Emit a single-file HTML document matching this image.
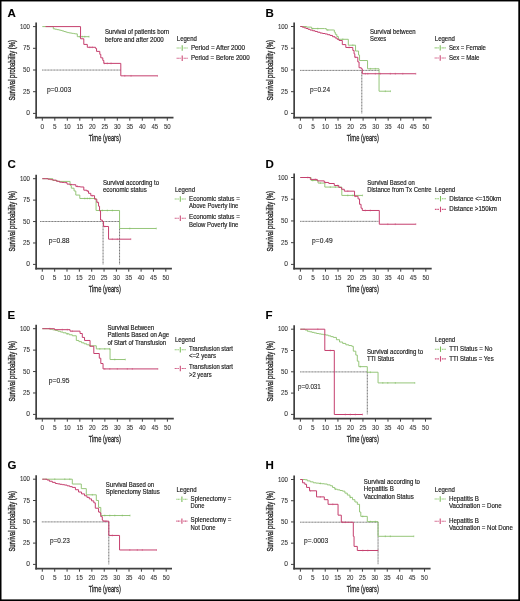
<!DOCTYPE html>
<html><head><meta charset="utf-8"><style>
html,body{margin:0;padding:0;background:#fff;}
svg{display:block;will-change:transform;}
text{font-family:"Liberation Sans", sans-serif;}
</style></head><body>
<svg width="520" height="601" viewBox="0 0 520 601">
<rect x="0" y="0" width="520" height="601" fill="#fff"/>
<g transform="translate(0 0)">
<text x="7.50" y="16.70" font-size="11.5" text-anchor="start" font-weight="bold" fill="#000" stroke="#000" stroke-width="0.1">A</text>
<line x1="36.15" y1="22.60" x2="36.15" y2="118.4" stroke="#404040" stroke-width="1.7"/>
<line x1="35.3" y1="117.65" x2="173.50" y2="117.65" stroke="#404040" stroke-width="1.7"/>
<line x1="33.0" y1="113.40" x2="36.1" y2="113.40" stroke="#404040" stroke-width="1"/>
<text x="30.00" y="115.45" font-size="6.7" text-anchor="end" font-weight="normal" fill="#333" textLength="3.70" lengthAdjust="spacingAndGlyphs" stroke="#333" stroke-width="0.08">0</text>
<line x1="33.0" y1="91.70" x2="36.1" y2="91.70" stroke="#404040" stroke-width="1"/>
<text x="30.00" y="93.75" font-size="6.7" text-anchor="end" font-weight="normal" fill="#333" textLength="7.00" lengthAdjust="spacingAndGlyphs" stroke="#333" stroke-width="0.08">25</text>
<line x1="33.0" y1="70.00" x2="36.1" y2="70.00" stroke="#404040" stroke-width="1"/>
<text x="30.00" y="72.05" font-size="6.7" text-anchor="end" font-weight="normal" fill="#333" textLength="7.00" lengthAdjust="spacingAndGlyphs" stroke="#333" stroke-width="0.08">50</text>
<line x1="33.0" y1="48.30" x2="36.1" y2="48.30" stroke="#404040" stroke-width="1"/>
<text x="30.00" y="50.35" font-size="6.7" text-anchor="end" font-weight="normal" fill="#333" textLength="7.00" lengthAdjust="spacingAndGlyphs" stroke="#333" stroke-width="0.08">75</text>
<line x1="33.0" y1="26.60" x2="36.1" y2="26.60" stroke="#404040" stroke-width="1"/>
<text x="30.00" y="28.65" font-size="6.7" text-anchor="end" font-weight="normal" fill="#333" textLength="10.10" lengthAdjust="spacingAndGlyphs" stroke="#333" stroke-width="0.08">100</text>
<line x1="42.30" y1="117.6" x2="42.30" y2="120.7" stroke="#404040" stroke-width="1"/>
<text x="42.30" y="129.20" font-size="6.6" text-anchor="middle" font-weight="normal" fill="#333" textLength="3.60" lengthAdjust="spacingAndGlyphs" stroke="#333" stroke-width="0.08">0</text>
<line x1="54.80" y1="117.6" x2="54.80" y2="120.7" stroke="#404040" stroke-width="1"/>
<text x="54.80" y="129.20" font-size="6.6" text-anchor="middle" font-weight="normal" fill="#333" textLength="3.60" lengthAdjust="spacingAndGlyphs" stroke="#333" stroke-width="0.08">5</text>
<line x1="67.30" y1="117.6" x2="67.30" y2="120.7" stroke="#404040" stroke-width="1"/>
<text x="67.30" y="129.20" font-size="6.6" text-anchor="middle" font-weight="normal" fill="#333" textLength="6.80" lengthAdjust="spacingAndGlyphs" stroke="#333" stroke-width="0.08">10</text>
<line x1="79.80" y1="117.6" x2="79.80" y2="120.7" stroke="#404040" stroke-width="1"/>
<text x="79.80" y="129.20" font-size="6.6" text-anchor="middle" font-weight="normal" fill="#333" textLength="6.80" lengthAdjust="spacingAndGlyphs" stroke="#333" stroke-width="0.08">15</text>
<line x1="92.30" y1="117.6" x2="92.30" y2="120.7" stroke="#404040" stroke-width="1"/>
<text x="92.30" y="129.20" font-size="6.6" text-anchor="middle" font-weight="normal" fill="#333" textLength="6.80" lengthAdjust="spacingAndGlyphs" stroke="#333" stroke-width="0.08">20</text>
<line x1="104.80" y1="117.6" x2="104.80" y2="120.7" stroke="#404040" stroke-width="1"/>
<text x="104.80" y="129.20" font-size="6.6" text-anchor="middle" font-weight="normal" fill="#333" textLength="6.80" lengthAdjust="spacingAndGlyphs" stroke="#333" stroke-width="0.08">25</text>
<line x1="117.30" y1="117.6" x2="117.30" y2="120.7" stroke="#404040" stroke-width="1"/>
<text x="117.30" y="129.20" font-size="6.6" text-anchor="middle" font-weight="normal" fill="#333" textLength="6.80" lengthAdjust="spacingAndGlyphs" stroke="#333" stroke-width="0.08">30</text>
<line x1="129.80" y1="117.6" x2="129.80" y2="120.7" stroke="#404040" stroke-width="1"/>
<text x="129.80" y="129.20" font-size="6.6" text-anchor="middle" font-weight="normal" fill="#333" textLength="6.80" lengthAdjust="spacingAndGlyphs" stroke="#333" stroke-width="0.08">35</text>
<line x1="142.30" y1="117.6" x2="142.30" y2="120.7" stroke="#404040" stroke-width="1"/>
<text x="142.30" y="129.20" font-size="6.6" text-anchor="middle" font-weight="normal" fill="#333" textLength="6.80" lengthAdjust="spacingAndGlyphs" stroke="#333" stroke-width="0.08">40</text>
<line x1="154.80" y1="117.6" x2="154.80" y2="120.7" stroke="#404040" stroke-width="1"/>
<text x="154.80" y="129.20" font-size="6.6" text-anchor="middle" font-weight="normal" fill="#333" textLength="6.80" lengthAdjust="spacingAndGlyphs" stroke="#333" stroke-width="0.08">45</text>
<line x1="167.30" y1="117.6" x2="167.30" y2="120.7" stroke="#404040" stroke-width="1"/>
<text x="167.30" y="129.20" font-size="6.6" text-anchor="middle" font-weight="normal" fill="#333" textLength="6.80" lengthAdjust="spacingAndGlyphs" stroke="#333" stroke-width="0.08">50</text>
<text x="104.80" y="140.90" font-size="9.0" text-anchor="middle" font-weight="normal" fill="#2a2a2a" textLength="32.00" lengthAdjust="spacingAndGlyphs" stroke="#2a2a2a" stroke-width="0.32">Time (years)</text>
<text x="0" y="0" font-size="9.4" text-anchor="middle" fill="#2a2a2a" stroke="#2a2a2a" stroke-width="0.36" textLength="60.6" lengthAdjust="spacingAndGlyphs" transform="translate(14.5 70.3) rotate(-90)">Survival probability (%)</text>
<path d="M42.10,70.05H120.80" fill="none" stroke="#707070" stroke-width="0.95" stroke-dasharray="1.1 0.4"/>
<path d="M42.30,26.60H51.55V26.60H53.30V28.85H55.11V29.24H56.92V29.63H58.74V30.02H60.55V30.42H62.24V30.96H63.92V31.50H65.61V32.05H67.30V32.59H68.90V32.85H70.50V33.11H72.10V33.37H73.70V33.63H75.30V33.89H77.30V36.68H89.05" fill="none" stroke="#96c67a" stroke-width="1.0" stroke-linejoin="miter"/>
<line x1="79.80" y1="35.78" x2="79.80" y2="37.58" stroke="#7cbc5c" stroke-width="0.9" opacity="0.6"/>
<line x1="82.30" y1="35.78" x2="82.30" y2="37.58" stroke="#7cbc5c" stroke-width="0.9" opacity="0.6"/>
<line x1="84.80" y1="35.78" x2="84.80" y2="37.58" stroke="#7cbc5c" stroke-width="0.9" opacity="0.6"/>
<line x1="89.05" y1="35.78" x2="89.05" y2="37.58" stroke="#7cbc5c" stroke-width="0.9" opacity="0.6"/>
<path d="M45.55,26.60H80.55V38.77H83.80V44.42H87.30V47.29H95.55V48.42H96.55V51.38H99.80V54.34H100.80V57.82H102.80V60.43H103.80V63.39H120.80V75.83H157.55" fill="none" stroke="#c53f6e" stroke-width="1.0" stroke-linejoin="miter"/>
<line x1="89.80" y1="46.39" x2="89.80" y2="48.19" stroke="#cc4a76" stroke-width="0.9" opacity="0.6"/>
<line x1="92.30" y1="46.39" x2="92.30" y2="48.19" stroke="#cc4a76" stroke-width="0.9" opacity="0.6"/>
<line x1="104.30" y1="62.49" x2="104.30" y2="64.29" stroke="#cc4a76" stroke-width="0.9" opacity="0.6"/>
<line x1="107.30" y1="62.49" x2="107.30" y2="64.29" stroke="#cc4a76" stroke-width="0.9" opacity="0.6"/>
<line x1="111.05" y1="62.49" x2="111.05" y2="64.29" stroke="#cc4a76" stroke-width="0.9" opacity="0.6"/>
<line x1="124.80" y1="74.93" x2="124.80" y2="76.73" stroke="#cc4a76" stroke-width="0.9" opacity="0.6"/>
<line x1="131.05" y1="74.93" x2="131.05" y2="76.73" stroke="#cc4a76" stroke-width="0.9" opacity="0.6"/>
<line x1="157.55" y1="74.93" x2="157.55" y2="76.73" stroke="#cc4a76" stroke-width="0.9" opacity="0.6"/>
<text x="104.90" y="34.20" font-size="6.6" text-anchor="start" font-weight="normal" fill="#222" textLength="64.30" lengthAdjust="spacingAndGlyphs" stroke="#222" stroke-width="0.18">Survival of patients born</text>
<text x="104.90" y="41.60" font-size="6.6" text-anchor="start" font-weight="normal" fill="#222" textLength="58.90" lengthAdjust="spacingAndGlyphs" stroke="#222" stroke-width="0.18">before and after 2000</text>
<text x="176.80" y="41.35" font-size="6.6" text-anchor="start" font-weight="normal" fill="#222" textLength="20.10" lengthAdjust="spacingAndGlyphs" stroke="#222" stroke-width="0.18">Legend</text>
<line x1="176.60" y1="48.00" x2="180.70" y2="48.00" stroke="#8fca72" stroke-width="1.1" stroke-dasharray="1.2 0.4"/><line x1="182.20" y1="45.30" x2="182.20" y2="50.70" stroke="#7cbc5c" stroke-width="1.1"/><line x1="183.60" y1="48.00" x2="187.70" y2="48.00" stroke="#8fca72" stroke-width="1.1" stroke-dasharray="1.2 0.4"/>
<text x="190.90" y="49.90" font-size="6.6" text-anchor="start" font-weight="normal" fill="#222" textLength="54.20" lengthAdjust="spacingAndGlyphs" stroke="#222" stroke-width="0.18">Period = After 2000</text>
<line x1="176.60" y1="58.30" x2="180.70" y2="58.30" stroke="#cf5580" stroke-width="1.1" stroke-dasharray="1.2 0.4"/><line x1="182.20" y1="55.60" x2="182.20" y2="61.00" stroke="#cc4a76" stroke-width="1.1"/><line x1="183.60" y1="58.30" x2="187.70" y2="58.30" stroke="#cf5580" stroke-width="1.1" stroke-dasharray="1.2 0.4"/>
<text x="190.90" y="59.90" font-size="6.6" text-anchor="start" font-weight="normal" fill="#222" textLength="58.80" lengthAdjust="spacingAndGlyphs" stroke="#222" stroke-width="0.18">Period = Before 2000</text>
<text x="46.90" y="92.10" font-size="6.8" text-anchor="start" font-weight="normal" fill="#222" textLength="24.30" lengthAdjust="spacingAndGlyphs" stroke="#222" stroke-width="0.1">p=0.003</text>
</g>
<g transform="translate(258 0)">
<text x="7.50" y="16.70" font-size="11.5" text-anchor="start" font-weight="bold" fill="#000" stroke="#000" stroke-width="0.1">B</text>
<line x1="36.15" y1="22.50" x2="36.15" y2="118.4" stroke="#404040" stroke-width="1.7"/>
<line x1="35.3" y1="117.65" x2="173.70" y2="117.65" stroke="#404040" stroke-width="1.7"/>
<line x1="33.0" y1="113.40" x2="36.1" y2="113.40" stroke="#404040" stroke-width="1"/>
<text x="30.00" y="115.45" font-size="6.7" text-anchor="end" font-weight="normal" fill="#333" textLength="3.70" lengthAdjust="spacingAndGlyphs" stroke="#333" stroke-width="0.08">0</text>
<line x1="33.0" y1="91.68" x2="36.1" y2="91.68" stroke="#404040" stroke-width="1"/>
<text x="30.00" y="93.73" font-size="6.7" text-anchor="end" font-weight="normal" fill="#333" textLength="7.00" lengthAdjust="spacingAndGlyphs" stroke="#333" stroke-width="0.08">25</text>
<line x1="33.0" y1="69.95" x2="36.1" y2="69.95" stroke="#404040" stroke-width="1"/>
<text x="30.00" y="72.00" font-size="6.7" text-anchor="end" font-weight="normal" fill="#333" textLength="7.00" lengthAdjust="spacingAndGlyphs" stroke="#333" stroke-width="0.08">50</text>
<line x1="33.0" y1="48.23" x2="36.1" y2="48.23" stroke="#404040" stroke-width="1"/>
<text x="30.00" y="50.28" font-size="6.7" text-anchor="end" font-weight="normal" fill="#333" textLength="7.00" lengthAdjust="spacingAndGlyphs" stroke="#333" stroke-width="0.08">75</text>
<line x1="33.0" y1="26.50" x2="36.1" y2="26.50" stroke="#404040" stroke-width="1"/>
<text x="30.00" y="28.55" font-size="6.7" text-anchor="end" font-weight="normal" fill="#333" textLength="10.10" lengthAdjust="spacingAndGlyphs" stroke="#333" stroke-width="0.08">100</text>
<line x1="42.40" y1="117.6" x2="42.40" y2="120.7" stroke="#404040" stroke-width="1"/>
<text x="42.40" y="129.20" font-size="6.6" text-anchor="middle" font-weight="normal" fill="#333" textLength="3.60" lengthAdjust="spacingAndGlyphs" stroke="#333" stroke-width="0.08">0</text>
<line x1="54.94" y1="117.6" x2="54.94" y2="120.7" stroke="#404040" stroke-width="1"/>
<text x="54.94" y="129.20" font-size="6.6" text-anchor="middle" font-weight="normal" fill="#333" textLength="3.60" lengthAdjust="spacingAndGlyphs" stroke="#333" stroke-width="0.08">5</text>
<line x1="67.48" y1="117.6" x2="67.48" y2="120.7" stroke="#404040" stroke-width="1"/>
<text x="67.48" y="129.20" font-size="6.6" text-anchor="middle" font-weight="normal" fill="#333" textLength="6.80" lengthAdjust="spacingAndGlyphs" stroke="#333" stroke-width="0.08">10</text>
<line x1="80.02" y1="117.6" x2="80.02" y2="120.7" stroke="#404040" stroke-width="1"/>
<text x="80.02" y="129.20" font-size="6.6" text-anchor="middle" font-weight="normal" fill="#333" textLength="6.80" lengthAdjust="spacingAndGlyphs" stroke="#333" stroke-width="0.08">15</text>
<line x1="92.56" y1="117.6" x2="92.56" y2="120.7" stroke="#404040" stroke-width="1"/>
<text x="92.56" y="129.20" font-size="6.6" text-anchor="middle" font-weight="normal" fill="#333" textLength="6.80" lengthAdjust="spacingAndGlyphs" stroke="#333" stroke-width="0.08">20</text>
<line x1="105.10" y1="117.6" x2="105.10" y2="120.7" stroke="#404040" stroke-width="1"/>
<text x="105.10" y="129.20" font-size="6.6" text-anchor="middle" font-weight="normal" fill="#333" textLength="6.80" lengthAdjust="spacingAndGlyphs" stroke="#333" stroke-width="0.08">25</text>
<line x1="117.64" y1="117.6" x2="117.64" y2="120.7" stroke="#404040" stroke-width="1"/>
<text x="117.64" y="129.20" font-size="6.6" text-anchor="middle" font-weight="normal" fill="#333" textLength="6.80" lengthAdjust="spacingAndGlyphs" stroke="#333" stroke-width="0.08">30</text>
<line x1="130.18" y1="117.6" x2="130.18" y2="120.7" stroke="#404040" stroke-width="1"/>
<text x="130.18" y="129.20" font-size="6.6" text-anchor="middle" font-weight="normal" fill="#333" textLength="6.80" lengthAdjust="spacingAndGlyphs" stroke="#333" stroke-width="0.08">35</text>
<line x1="142.72" y1="117.6" x2="142.72" y2="120.7" stroke="#404040" stroke-width="1"/>
<text x="142.72" y="129.20" font-size="6.6" text-anchor="middle" font-weight="normal" fill="#333" textLength="6.80" lengthAdjust="spacingAndGlyphs" stroke="#333" stroke-width="0.08">40</text>
<line x1="155.26" y1="117.6" x2="155.26" y2="120.7" stroke="#404040" stroke-width="1"/>
<text x="155.26" y="129.20" font-size="6.6" text-anchor="middle" font-weight="normal" fill="#333" textLength="6.80" lengthAdjust="spacingAndGlyphs" stroke="#333" stroke-width="0.08">45</text>
<line x1="167.80" y1="117.6" x2="167.80" y2="120.7" stroke="#404040" stroke-width="1"/>
<text x="167.80" y="129.20" font-size="6.6" text-anchor="middle" font-weight="normal" fill="#333" textLength="6.80" lengthAdjust="spacingAndGlyphs" stroke="#333" stroke-width="0.08">50</text>
<text x="104.80" y="140.90" font-size="9.0" text-anchor="middle" font-weight="normal" fill="#2a2a2a" textLength="32.00" lengthAdjust="spacingAndGlyphs" stroke="#2a2a2a" stroke-width="0.32">Time (years)</text>
<text x="0" y="0" font-size="9.4" text-anchor="middle" fill="#2a2a2a" stroke="#2a2a2a" stroke-width="0.36" textLength="60.6" lengthAdjust="spacingAndGlyphs" transform="translate(14.5 70.3) rotate(-90)">Survival probability (%)</text>
<path d="M42.10,70.40H121.05 M103.80,70.40V113.4" fill="none" stroke="#707070" stroke-width="0.95" stroke-dasharray="1.1 0.4"/>
<path d="M42.30,26.50H48.55V27.11H53.55V28.59H66.55V28.59H68.30V29.98H75.30V29.98H76.30V32.16H77.30V34.33H78.80V36.50H80.30V39.29H90.30V45.20H97.55V51.03H100.55V55.04H101.55V60.52H109.55V68.78H121.05V91.23H132.55" fill="none" stroke="#96c67a" stroke-width="1.0" stroke-linejoin="miter"/>
<line x1="54.80" y1="27.69" x2="54.80" y2="29.49" stroke="#7cbc5c" stroke-width="0.9" opacity="0.6"/>
<line x1="59.80" y1="27.69" x2="59.80" y2="29.49" stroke="#7cbc5c" stroke-width="0.9" opacity="0.6"/>
<line x1="69.80" y1="29.08" x2="69.80" y2="30.88" stroke="#7cbc5c" stroke-width="0.9" opacity="0.6"/>
<line x1="84.80" y1="38.39" x2="84.80" y2="40.19" stroke="#7cbc5c" stroke-width="0.9" opacity="0.6"/>
<line x1="94.80" y1="44.30" x2="94.80" y2="46.10" stroke="#7cbc5c" stroke-width="0.9" opacity="0.6"/>
<line x1="112.30" y1="67.88" x2="112.30" y2="69.68" stroke="#7cbc5c" stroke-width="0.9" opacity="0.6"/>
<line x1="117.30" y1="67.88" x2="117.30" y2="69.68" stroke="#7cbc5c" stroke-width="0.9" opacity="0.6"/>
<line x1="127.30" y1="90.33" x2="127.30" y2="92.13" stroke="#7cbc5c" stroke-width="0.9" opacity="0.6"/>
<line x1="132.55" y1="90.33" x2="132.55" y2="92.13" stroke="#7cbc5c" stroke-width="0.9" opacity="0.6"/>
<path d="M42.30,26.50H44.22V27.17H46.13V27.83H48.05V28.50H50.05V29.28H52.05V30.07H54.55V30.76H57.05V31.46H59.55V32.24H62.05V33.03H64.55V33.50H67.05V33.98H69.55V34.72H72.05V35.46H74.55V36.72H77.05V37.98H79.05V39.25H81.05V40.51H84.30V44.60H87.80V47.47H94.80V50.42H96.05V53.82H96.80V57.30H99.80V61.91H101.05V67.74H103.30V68.78H104.30V73.74H157.80" fill="none" stroke="#c53f6e" stroke-width="1.0" stroke-linejoin="miter"/>
<line x1="91.05" y1="46.57" x2="91.05" y2="48.37" stroke="#cc4a76" stroke-width="0.9" opacity="0.6"/>
<line x1="97.30" y1="56.40" x2="97.30" y2="58.20" stroke="#cc4a76" stroke-width="0.9" opacity="0.6"/>
<line x1="107.30" y1="72.84" x2="107.30" y2="74.64" stroke="#cc4a76" stroke-width="0.9" opacity="0.6"/>
<line x1="109.80" y1="72.84" x2="109.80" y2="74.64" stroke="#cc4a76" stroke-width="0.9" opacity="0.6"/>
<line x1="117.30" y1="72.84" x2="117.30" y2="74.64" stroke="#cc4a76" stroke-width="0.9" opacity="0.6"/>
<line x1="122.30" y1="72.84" x2="122.30" y2="74.64" stroke="#cc4a76" stroke-width="0.9" opacity="0.6"/>
<line x1="132.30" y1="72.84" x2="132.30" y2="74.64" stroke="#cc4a76" stroke-width="0.9" opacity="0.6"/>
<line x1="137.30" y1="72.84" x2="137.30" y2="74.64" stroke="#cc4a76" stroke-width="0.9" opacity="0.6"/>
<line x1="144.80" y1="72.84" x2="144.80" y2="74.64" stroke="#cc4a76" stroke-width="0.9" opacity="0.6"/>
<line x1="157.80" y1="72.84" x2="157.80" y2="74.64" stroke="#cc4a76" stroke-width="0.9" opacity="0.6"/>
<text x="112.00" y="33.80" font-size="6.6" text-anchor="start" font-weight="normal" fill="#222" textLength="45.70" lengthAdjust="spacingAndGlyphs" stroke="#222" stroke-width="0.18">Survival between</text>
<text x="112.00" y="41.20" font-size="6.6" text-anchor="start" font-weight="normal" fill="#222" textLength="16.20" lengthAdjust="spacingAndGlyphs" stroke="#222" stroke-width="0.18">Sexes</text>
<text x="176.80" y="41.45" font-size="6.6" text-anchor="start" font-weight="normal" fill="#222" textLength="20.10" lengthAdjust="spacingAndGlyphs" stroke="#222" stroke-width="0.18">Legend</text>
<line x1="176.60" y1="47.90" x2="180.70" y2="47.90" stroke="#8fca72" stroke-width="1.1" stroke-dasharray="1.2 0.4"/><line x1="182.20" y1="45.20" x2="182.20" y2="50.60" stroke="#7cbc5c" stroke-width="1.1"/><line x1="183.60" y1="47.90" x2="187.70" y2="47.90" stroke="#8fca72" stroke-width="1.1" stroke-dasharray="1.2 0.4"/>
<text x="190.90" y="49.50" font-size="6.6" text-anchor="start" font-weight="normal" fill="#222" textLength="37.00" lengthAdjust="spacingAndGlyphs" stroke="#222" stroke-width="0.18">Sex = Female</text>
<line x1="176.60" y1="58.00" x2="180.70" y2="58.00" stroke="#cf5580" stroke-width="1.1" stroke-dasharray="1.2 0.4"/><line x1="182.20" y1="55.30" x2="182.20" y2="60.70" stroke="#cc4a76" stroke-width="1.1"/><line x1="183.60" y1="58.00" x2="187.70" y2="58.00" stroke="#cf5580" stroke-width="1.1" stroke-dasharray="1.2 0.4"/>
<text x="190.90" y="59.60" font-size="6.6" text-anchor="start" font-weight="normal" fill="#222" textLength="30.60" lengthAdjust="spacingAndGlyphs" stroke="#222" stroke-width="0.18">Sex = Male</text>
<text x="52.00" y="92.20" font-size="6.8" text-anchor="start" font-weight="normal" fill="#222" textLength="20.00" lengthAdjust="spacingAndGlyphs" stroke="#222" stroke-width="0.1">p=0.24</text>
</g>
<g transform="translate(0 151)">
<text x="7.50" y="16.60" font-size="11.5" text-anchor="start" font-weight="bold" fill="#000" stroke="#000" stroke-width="0.1">C</text>
<line x1="36.15" y1="23.70" x2="36.15" y2="118.4" stroke="#404040" stroke-width="1.7"/>
<line x1="35.3" y1="117.65" x2="171.90" y2="117.65" stroke="#404040" stroke-width="1.7"/>
<line x1="33.0" y1="113.40" x2="36.1" y2="113.40" stroke="#404040" stroke-width="1"/>
<text x="30.00" y="115.45" font-size="6.7" text-anchor="end" font-weight="normal" fill="#333" textLength="3.70" lengthAdjust="spacingAndGlyphs" stroke="#333" stroke-width="0.08">0</text>
<line x1="33.0" y1="91.98" x2="36.1" y2="91.98" stroke="#404040" stroke-width="1"/>
<text x="30.00" y="94.03" font-size="6.7" text-anchor="end" font-weight="normal" fill="#333" textLength="7.00" lengthAdjust="spacingAndGlyphs" stroke="#333" stroke-width="0.08">25</text>
<line x1="33.0" y1="70.55" x2="36.1" y2="70.55" stroke="#404040" stroke-width="1"/>
<text x="30.00" y="72.60" font-size="6.7" text-anchor="end" font-weight="normal" fill="#333" textLength="7.00" lengthAdjust="spacingAndGlyphs" stroke="#333" stroke-width="0.08">50</text>
<line x1="33.0" y1="49.12" x2="36.1" y2="49.12" stroke="#404040" stroke-width="1"/>
<text x="30.00" y="51.17" font-size="6.7" text-anchor="end" font-weight="normal" fill="#333" textLength="7.00" lengthAdjust="spacingAndGlyphs" stroke="#333" stroke-width="0.08">75</text>
<line x1="33.0" y1="27.70" x2="36.1" y2="27.70" stroke="#404040" stroke-width="1"/>
<text x="30.00" y="29.75" font-size="6.7" text-anchor="end" font-weight="normal" fill="#333" textLength="10.10" lengthAdjust="spacingAndGlyphs" stroke="#333" stroke-width="0.08">100</text>
<line x1="42.30" y1="117.6" x2="42.30" y2="120.7" stroke="#404040" stroke-width="1"/>
<text x="42.30" y="129.20" font-size="6.6" text-anchor="middle" font-weight="normal" fill="#333" textLength="3.60" lengthAdjust="spacingAndGlyphs" stroke="#333" stroke-width="0.08">0</text>
<line x1="54.65" y1="117.6" x2="54.65" y2="120.7" stroke="#404040" stroke-width="1"/>
<text x="54.65" y="129.20" font-size="6.6" text-anchor="middle" font-weight="normal" fill="#333" textLength="3.60" lengthAdjust="spacingAndGlyphs" stroke="#333" stroke-width="0.08">5</text>
<line x1="67.00" y1="117.6" x2="67.00" y2="120.7" stroke="#404040" stroke-width="1"/>
<text x="67.00" y="129.20" font-size="6.6" text-anchor="middle" font-weight="normal" fill="#333" textLength="6.80" lengthAdjust="spacingAndGlyphs" stroke="#333" stroke-width="0.08">10</text>
<line x1="79.35" y1="117.6" x2="79.35" y2="120.7" stroke="#404040" stroke-width="1"/>
<text x="79.35" y="129.20" font-size="6.6" text-anchor="middle" font-weight="normal" fill="#333" textLength="6.80" lengthAdjust="spacingAndGlyphs" stroke="#333" stroke-width="0.08">15</text>
<line x1="91.70" y1="117.6" x2="91.70" y2="120.7" stroke="#404040" stroke-width="1"/>
<text x="91.70" y="129.20" font-size="6.6" text-anchor="middle" font-weight="normal" fill="#333" textLength="6.80" lengthAdjust="spacingAndGlyphs" stroke="#333" stroke-width="0.08">20</text>
<line x1="104.05" y1="117.6" x2="104.05" y2="120.7" stroke="#404040" stroke-width="1"/>
<text x="104.05" y="129.20" font-size="6.6" text-anchor="middle" font-weight="normal" fill="#333" textLength="6.80" lengthAdjust="spacingAndGlyphs" stroke="#333" stroke-width="0.08">25</text>
<line x1="116.40" y1="117.6" x2="116.40" y2="120.7" stroke="#404040" stroke-width="1"/>
<text x="116.40" y="129.20" font-size="6.6" text-anchor="middle" font-weight="normal" fill="#333" textLength="6.80" lengthAdjust="spacingAndGlyphs" stroke="#333" stroke-width="0.08">30</text>
<line x1="128.75" y1="117.6" x2="128.75" y2="120.7" stroke="#404040" stroke-width="1"/>
<text x="128.75" y="129.20" font-size="6.6" text-anchor="middle" font-weight="normal" fill="#333" textLength="6.80" lengthAdjust="spacingAndGlyphs" stroke="#333" stroke-width="0.08">35</text>
<line x1="141.10" y1="117.6" x2="141.10" y2="120.7" stroke="#404040" stroke-width="1"/>
<text x="141.10" y="129.20" font-size="6.6" text-anchor="middle" font-weight="normal" fill="#333" textLength="6.80" lengthAdjust="spacingAndGlyphs" stroke="#333" stroke-width="0.08">40</text>
<line x1="153.45" y1="117.6" x2="153.45" y2="120.7" stroke="#404040" stroke-width="1"/>
<text x="153.45" y="129.20" font-size="6.6" text-anchor="middle" font-weight="normal" fill="#333" textLength="6.80" lengthAdjust="spacingAndGlyphs" stroke="#333" stroke-width="0.08">45</text>
<line x1="165.80" y1="117.6" x2="165.80" y2="120.7" stroke="#404040" stroke-width="1"/>
<text x="165.80" y="129.20" font-size="6.6" text-anchor="middle" font-weight="normal" fill="#333" textLength="6.80" lengthAdjust="spacingAndGlyphs" stroke="#333" stroke-width="0.08">50</text>
<text x="104.80" y="140.90" font-size="9.0" text-anchor="middle" font-weight="normal" fill="#2a2a2a" textLength="32.00" lengthAdjust="spacingAndGlyphs" stroke="#2a2a2a" stroke-width="0.32">Time (years)</text>
<text x="0" y="0" font-size="9.4" text-anchor="middle" fill="#2a2a2a" stroke="#2a2a2a" stroke-width="0.36" textLength="60.6" lengthAdjust="spacingAndGlyphs" transform="translate(14.5 70.3) rotate(-90)">Survival probability (%)</text>
<path d="M40.10,70.50H119.55 M103.05,70.50V113.4 M119.55,70.50V113.4" fill="none" stroke="#707070" stroke-width="0.95" stroke-dasharray="1.1 0.4"/>
<path d="M42.30,27.70H52.80V29.46H57.30V30.42H70.05V34.33H71.30V37.20H74.05V39.98H75.80V44.07H79.80V47.47H96.05V59.47H119.55V77.48H156.30" fill="none" stroke="#96c67a" stroke-width="1.0" stroke-linejoin="miter"/>
<line x1="84.80" y1="46.57" x2="84.80" y2="48.37" stroke="#7cbc5c" stroke-width="0.9" opacity="0.6"/>
<line x1="87.30" y1="46.57" x2="87.30" y2="48.37" stroke="#7cbc5c" stroke-width="0.9" opacity="0.6"/>
<line x1="89.80" y1="46.57" x2="89.80" y2="48.37" stroke="#7cbc5c" stroke-width="0.9" opacity="0.6"/>
<line x1="102.30" y1="58.57" x2="102.30" y2="60.37" stroke="#7cbc5c" stroke-width="0.9" opacity="0.6"/>
<line x1="107.30" y1="58.57" x2="107.30" y2="60.37" stroke="#7cbc5c" stroke-width="0.9" opacity="0.6"/>
<line x1="112.30" y1="58.57" x2="112.30" y2="60.37" stroke="#7cbc5c" stroke-width="0.9" opacity="0.6"/>
<line x1="129.80" y1="76.58" x2="129.80" y2="78.38" stroke="#7cbc5c" stroke-width="0.9" opacity="0.6"/>
<line x1="156.30" y1="76.58" x2="156.30" y2="78.38" stroke="#7cbc5c" stroke-width="0.9" opacity="0.6"/>
<path d="M42.30,27.70H45.17V27.70H48.05V28.24H50.42V28.67H52.80V29.11H56.30V30.24H59.55V31.20H61.92V31.42H64.30V31.63H67.05V33.11H69.67V33.42H72.30V33.72H75.80V35.37H78.05V35.68H80.30V35.98H83.80V39.20H86.80V39.98H88.55V42.33H90.80V44.68H94.55V48.16H96.80V51.30H98.55V55.21H99.55V59.82H100.55V69.04H102.30V70.52H103.55V75.48H108.55V88.18H130.80" fill="none" stroke="#c53f6e" stroke-width="1.0" stroke-linejoin="miter"/>
<line x1="77.30" y1="34.47" x2="77.30" y2="36.27" stroke="#cc4a76" stroke-width="0.9" opacity="0.6"/>
<line x1="87.30" y1="39.09" x2="87.30" y2="40.88" stroke="#cc4a76" stroke-width="0.9" opacity="0.6"/>
<line x1="92.30" y1="43.78" x2="92.30" y2="45.58" stroke="#cc4a76" stroke-width="0.9" opacity="0.6"/>
<line x1="97.30" y1="50.40" x2="97.30" y2="52.20" stroke="#cc4a76" stroke-width="0.9" opacity="0.6"/>
<line x1="104.80" y1="74.58" x2="104.80" y2="76.38" stroke="#cc4a76" stroke-width="0.9" opacity="0.6"/>
<line x1="112.30" y1="87.28" x2="112.30" y2="89.08" stroke="#cc4a76" stroke-width="0.9" opacity="0.6"/>
<line x1="117.30" y1="87.28" x2="117.30" y2="89.08" stroke="#cc4a76" stroke-width="0.9" opacity="0.6"/>
<line x1="130.80" y1="87.28" x2="130.80" y2="89.08" stroke="#cc4a76" stroke-width="0.9" opacity="0.6"/>
<text x="102.90" y="33.50" font-size="6.6" text-anchor="start" font-weight="normal" fill="#222" textLength="56.20" lengthAdjust="spacingAndGlyphs" stroke="#222" stroke-width="0.18">Survival according to</text>
<text x="102.90" y="40.60" font-size="6.6" text-anchor="start" font-weight="normal" fill="#222" textLength="43.90" lengthAdjust="spacingAndGlyphs" stroke="#222" stroke-width="0.18">economic status</text>
<text x="174.90" y="41.35" font-size="6.6" text-anchor="start" font-weight="normal" fill="#222" textLength="20.10" lengthAdjust="spacingAndGlyphs" stroke="#222" stroke-width="0.18">Legend</text>
<line x1="174.70" y1="48.00" x2="178.80" y2="48.00" stroke="#8fca72" stroke-width="1.1" stroke-dasharray="1.2 0.4"/><line x1="180.30" y1="45.30" x2="180.30" y2="50.70" stroke="#7cbc5c" stroke-width="1.1"/><line x1="181.70" y1="48.00" x2="185.80" y2="48.00" stroke="#8fca72" stroke-width="1.1" stroke-dasharray="1.2 0.4"/>
<text x="189.00" y="49.50" font-size="6.6" text-anchor="start" font-weight="normal" fill="#222" textLength="50.80" lengthAdjust="spacingAndGlyphs" stroke="#222" stroke-width="0.18">Economic status =</text>
<text x="189.00" y="57.20" font-size="6.6" text-anchor="start" font-weight="normal" fill="#222" textLength="49.30" lengthAdjust="spacingAndGlyphs" stroke="#222" stroke-width="0.18">Above Poverty line</text>
<line x1="174.70" y1="67.20" x2="178.80" y2="67.20" stroke="#cf5580" stroke-width="1.1" stroke-dasharray="1.2 0.4"/><line x1="180.30" y1="64.50" x2="180.30" y2="69.90" stroke="#cc4a76" stroke-width="1.1"/><line x1="181.70" y1="67.20" x2="185.80" y2="67.20" stroke="#cf5580" stroke-width="1.1" stroke-dasharray="1.2 0.4"/>
<text x="189.00" y="68.40" font-size="6.6" text-anchor="start" font-weight="normal" fill="#222" textLength="50.80" lengthAdjust="spacingAndGlyphs" stroke="#222" stroke-width="0.18">Economic status =</text>
<text x="189.00" y="75.60" font-size="6.6" text-anchor="start" font-weight="normal" fill="#222" textLength="49.30" lengthAdjust="spacingAndGlyphs" stroke="#222" stroke-width="0.18">Below Poverty line</text>
<text x="48.80" y="92.00" font-size="6.8" text-anchor="start" font-weight="normal" fill="#222" textLength="20.80" lengthAdjust="spacingAndGlyphs" stroke="#222" stroke-width="0.1">p=0.88</text>
</g>
<g transform="translate(258 151)">
<text x="7.50" y="16.60" font-size="11.5" text-anchor="start" font-weight="bold" fill="#000" stroke="#000" stroke-width="0.1">D</text>
<line x1="36.15" y1="22.50" x2="36.15" y2="118.4" stroke="#404040" stroke-width="1.7"/>
<line x1="35.3" y1="117.65" x2="173.70" y2="117.65" stroke="#404040" stroke-width="1.7"/>
<line x1="33.0" y1="113.40" x2="36.1" y2="113.40" stroke="#404040" stroke-width="1"/>
<text x="30.00" y="115.45" font-size="6.7" text-anchor="end" font-weight="normal" fill="#333" textLength="3.70" lengthAdjust="spacingAndGlyphs" stroke="#333" stroke-width="0.08">0</text>
<line x1="33.0" y1="91.68" x2="36.1" y2="91.68" stroke="#404040" stroke-width="1"/>
<text x="30.00" y="93.73" font-size="6.7" text-anchor="end" font-weight="normal" fill="#333" textLength="7.00" lengthAdjust="spacingAndGlyphs" stroke="#333" stroke-width="0.08">25</text>
<line x1="33.0" y1="69.95" x2="36.1" y2="69.95" stroke="#404040" stroke-width="1"/>
<text x="30.00" y="72.00" font-size="6.7" text-anchor="end" font-weight="normal" fill="#333" textLength="7.00" lengthAdjust="spacingAndGlyphs" stroke="#333" stroke-width="0.08">50</text>
<line x1="33.0" y1="48.23" x2="36.1" y2="48.23" stroke="#404040" stroke-width="1"/>
<text x="30.00" y="50.28" font-size="6.7" text-anchor="end" font-weight="normal" fill="#333" textLength="7.00" lengthAdjust="spacingAndGlyphs" stroke="#333" stroke-width="0.08">75</text>
<line x1="33.0" y1="26.50" x2="36.1" y2="26.50" stroke="#404040" stroke-width="1"/>
<text x="30.00" y="28.55" font-size="6.7" text-anchor="end" font-weight="normal" fill="#333" textLength="10.10" lengthAdjust="spacingAndGlyphs" stroke="#333" stroke-width="0.08">100</text>
<line x1="42.40" y1="117.6" x2="42.40" y2="120.7" stroke="#404040" stroke-width="1"/>
<text x="42.40" y="129.20" font-size="6.6" text-anchor="middle" font-weight="normal" fill="#333" textLength="3.60" lengthAdjust="spacingAndGlyphs" stroke="#333" stroke-width="0.08">0</text>
<line x1="54.94" y1="117.6" x2="54.94" y2="120.7" stroke="#404040" stroke-width="1"/>
<text x="54.94" y="129.20" font-size="6.6" text-anchor="middle" font-weight="normal" fill="#333" textLength="3.60" lengthAdjust="spacingAndGlyphs" stroke="#333" stroke-width="0.08">5</text>
<line x1="67.48" y1="117.6" x2="67.48" y2="120.7" stroke="#404040" stroke-width="1"/>
<text x="67.48" y="129.20" font-size="6.6" text-anchor="middle" font-weight="normal" fill="#333" textLength="6.80" lengthAdjust="spacingAndGlyphs" stroke="#333" stroke-width="0.08">10</text>
<line x1="80.02" y1="117.6" x2="80.02" y2="120.7" stroke="#404040" stroke-width="1"/>
<text x="80.02" y="129.20" font-size="6.6" text-anchor="middle" font-weight="normal" fill="#333" textLength="6.80" lengthAdjust="spacingAndGlyphs" stroke="#333" stroke-width="0.08">15</text>
<line x1="92.56" y1="117.6" x2="92.56" y2="120.7" stroke="#404040" stroke-width="1"/>
<text x="92.56" y="129.20" font-size="6.6" text-anchor="middle" font-weight="normal" fill="#333" textLength="6.80" lengthAdjust="spacingAndGlyphs" stroke="#333" stroke-width="0.08">20</text>
<line x1="105.10" y1="117.6" x2="105.10" y2="120.7" stroke="#404040" stroke-width="1"/>
<text x="105.10" y="129.20" font-size="6.6" text-anchor="middle" font-weight="normal" fill="#333" textLength="6.80" lengthAdjust="spacingAndGlyphs" stroke="#333" stroke-width="0.08">25</text>
<line x1="117.64" y1="117.6" x2="117.64" y2="120.7" stroke="#404040" stroke-width="1"/>
<text x="117.64" y="129.20" font-size="6.6" text-anchor="middle" font-weight="normal" fill="#333" textLength="6.80" lengthAdjust="spacingAndGlyphs" stroke="#333" stroke-width="0.08">30</text>
<line x1="130.18" y1="117.6" x2="130.18" y2="120.7" stroke="#404040" stroke-width="1"/>
<text x="130.18" y="129.20" font-size="6.6" text-anchor="middle" font-weight="normal" fill="#333" textLength="6.80" lengthAdjust="spacingAndGlyphs" stroke="#333" stroke-width="0.08">35</text>
<line x1="142.72" y1="117.6" x2="142.72" y2="120.7" stroke="#404040" stroke-width="1"/>
<text x="142.72" y="129.20" font-size="6.6" text-anchor="middle" font-weight="normal" fill="#333" textLength="6.80" lengthAdjust="spacingAndGlyphs" stroke="#333" stroke-width="0.08">40</text>
<line x1="155.26" y1="117.6" x2="155.26" y2="120.7" stroke="#404040" stroke-width="1"/>
<text x="155.26" y="129.20" font-size="6.6" text-anchor="middle" font-weight="normal" fill="#333" textLength="6.80" lengthAdjust="spacingAndGlyphs" stroke="#333" stroke-width="0.08">45</text>
<line x1="167.80" y1="117.6" x2="167.80" y2="120.7" stroke="#404040" stroke-width="1"/>
<text x="167.80" y="129.20" font-size="6.6" text-anchor="middle" font-weight="normal" fill="#333" textLength="6.80" lengthAdjust="spacingAndGlyphs" stroke="#333" stroke-width="0.08">50</text>
<text x="104.80" y="140.90" font-size="9.0" text-anchor="middle" font-weight="normal" fill="#2a2a2a" textLength="32.00" lengthAdjust="spacingAndGlyphs" stroke="#2a2a2a" stroke-width="0.32">Time (years)</text>
<text x="0" y="0" font-size="9.4" text-anchor="middle" fill="#2a2a2a" stroke="#2a2a2a" stroke-width="0.36" textLength="60.6" lengthAdjust="spacingAndGlyphs" transform="translate(14.5 70.3) rotate(-90)">Survival probability (%)</text>
<path d="M42.10,70.35H120.55" fill="none" stroke="#707070" stroke-width="0.95" stroke-dasharray="1.1 0.4"/>
<path d="M42.30,26.50H53.05V29.46H60.05V32.07H66.80V36.07H83.80V44.42H104.55" fill="none" stroke="#96c67a" stroke-width="1.0" stroke-linejoin="miter"/>
<line x1="54.80" y1="28.56" x2="54.80" y2="30.36" stroke="#7cbc5c" stroke-width="0.9" opacity="0.6"/>
<line x1="62.30" y1="31.17" x2="62.30" y2="32.97" stroke="#7cbc5c" stroke-width="0.9" opacity="0.6"/>
<line x1="72.30" y1="35.17" x2="72.30" y2="36.97" stroke="#7cbc5c" stroke-width="0.9" opacity="0.6"/>
<line x1="77.30" y1="35.17" x2="77.30" y2="36.97" stroke="#7cbc5c" stroke-width="0.9" opacity="0.6"/>
<line x1="89.80" y1="43.52" x2="89.80" y2="45.32" stroke="#7cbc5c" stroke-width="0.9" opacity="0.6"/>
<line x1="94.80" y1="43.52" x2="94.80" y2="45.32" stroke="#7cbc5c" stroke-width="0.9" opacity="0.6"/>
<line x1="104.55" y1="43.52" x2="104.55" y2="45.32" stroke="#7cbc5c" stroke-width="0.9" opacity="0.6"/>
<path d="M42.30,26.50H52.30V28.41H59.30V29.89H66.30V31.46H70.80V32.50H76.30V34.50H80.80V36.42H83.55V38.25H86.30V40.16H96.55V45.29H100.05V47.90H101.55V53.30H103.05V57.21H104.30V59.47H121.30V73.22H157.80" fill="none" stroke="#c53f6e" stroke-width="1.0" stroke-linejoin="miter"/>
<line x1="49.80" y1="25.60" x2="49.80" y2="27.40" stroke="#cc4a76" stroke-width="0.9" opacity="0.6"/>
<line x1="57.30" y1="27.51" x2="57.30" y2="29.31" stroke="#cc4a76" stroke-width="0.9" opacity="0.6"/>
<line x1="67.30" y1="30.56" x2="67.30" y2="32.36" stroke="#cc4a76" stroke-width="0.9" opacity="0.6"/>
<line x1="79.80" y1="33.60" x2="79.80" y2="35.40" stroke="#cc4a76" stroke-width="0.9" opacity="0.6"/>
<line x1="89.80" y1="39.26" x2="89.80" y2="41.06" stroke="#cc4a76" stroke-width="0.9" opacity="0.6"/>
<line x1="97.30" y1="44.39" x2="97.30" y2="46.19" stroke="#cc4a76" stroke-width="0.9" opacity="0.6"/>
<line x1="107.30" y1="58.57" x2="107.30" y2="60.37" stroke="#cc4a76" stroke-width="0.9" opacity="0.6"/>
<line x1="112.30" y1="58.57" x2="112.30" y2="60.37" stroke="#cc4a76" stroke-width="0.9" opacity="0.6"/>
<line x1="129.80" y1="72.32" x2="129.80" y2="74.12" stroke="#cc4a76" stroke-width="0.9" opacity="0.6"/>
<line x1="137.30" y1="72.32" x2="137.30" y2="74.12" stroke="#cc4a76" stroke-width="0.9" opacity="0.6"/>
<line x1="157.80" y1="72.32" x2="157.80" y2="74.12" stroke="#cc4a76" stroke-width="0.9" opacity="0.6"/>
<text x="109.20" y="33.80" font-size="6.6" text-anchor="start" font-weight="normal" fill="#222" textLength="47.60" lengthAdjust="spacingAndGlyphs" stroke="#222" stroke-width="0.18">Survival Based on</text>
<text x="109.20" y="41.30" font-size="6.6" text-anchor="start" font-weight="normal" fill="#222" textLength="64.40" lengthAdjust="spacingAndGlyphs" stroke="#222" stroke-width="0.18">Distance from Tx Centre</text>
<text x="177.10" y="41.35" font-size="6.6" text-anchor="start" font-weight="normal" fill="#222" textLength="20.10" lengthAdjust="spacingAndGlyphs" stroke="#222" stroke-width="0.18">Legend</text>
<line x1="176.90" y1="47.70" x2="181.00" y2="47.70" stroke="#8fca72" stroke-width="1.1" stroke-dasharray="1.2 0.4"/><line x1="182.50" y1="45.00" x2="182.50" y2="50.40" stroke="#7cbc5c" stroke-width="1.1"/><line x1="183.90" y1="47.70" x2="188.00" y2="47.70" stroke="#8fca72" stroke-width="1.1" stroke-dasharray="1.2 0.4"/>
<text x="191.20" y="49.50" font-size="6.6" text-anchor="start" font-weight="normal" fill="#222" textLength="52.00" lengthAdjust="spacingAndGlyphs" stroke="#222" stroke-width="0.18">Distance &lt;=150km</text>
<line x1="176.90" y1="58.40" x2="181.00" y2="58.40" stroke="#cf5580" stroke-width="1.1" stroke-dasharray="1.2 0.4"/><line x1="182.50" y1="55.70" x2="182.50" y2="61.10" stroke="#cc4a76" stroke-width="1.1"/><line x1="183.90" y1="58.40" x2="188.00" y2="58.40" stroke="#cf5580" stroke-width="1.1" stroke-dasharray="1.2 0.4"/>
<text x="191.20" y="59.90" font-size="6.6" text-anchor="start" font-weight="normal" fill="#222" textLength="47.70" lengthAdjust="spacingAndGlyphs" stroke="#222" stroke-width="0.18">Distance &gt;150km</text>
<text x="54.10" y="92.00" font-size="6.8" text-anchor="start" font-weight="normal" fill="#222" textLength="20.60" lengthAdjust="spacingAndGlyphs" stroke="#222" stroke-width="0.1">p=0.49</text>
</g>
<g transform="translate(0 301)">
<text x="7.50" y="17.75" font-size="11.5" text-anchor="start" font-weight="bold" fill="#000" stroke="#000" stroke-width="0.1">E</text>
<line x1="36.15" y1="23.70" x2="36.15" y2="118.4" stroke="#404040" stroke-width="1.7"/>
<line x1="35.3" y1="117.65" x2="173.80" y2="117.65" stroke="#404040" stroke-width="1.7"/>
<line x1="33.0" y1="113.40" x2="36.1" y2="113.40" stroke="#404040" stroke-width="1"/>
<text x="30.00" y="115.45" font-size="6.7" text-anchor="end" font-weight="normal" fill="#333" textLength="3.70" lengthAdjust="spacingAndGlyphs" stroke="#333" stroke-width="0.08">0</text>
<line x1="33.0" y1="91.98" x2="36.1" y2="91.98" stroke="#404040" stroke-width="1"/>
<text x="30.00" y="94.03" font-size="6.7" text-anchor="end" font-weight="normal" fill="#333" textLength="7.00" lengthAdjust="spacingAndGlyphs" stroke="#333" stroke-width="0.08">25</text>
<line x1="33.0" y1="70.55" x2="36.1" y2="70.55" stroke="#404040" stroke-width="1"/>
<text x="30.00" y="72.60" font-size="6.7" text-anchor="end" font-weight="normal" fill="#333" textLength="7.00" lengthAdjust="spacingAndGlyphs" stroke="#333" stroke-width="0.08">50</text>
<line x1="33.0" y1="49.12" x2="36.1" y2="49.12" stroke="#404040" stroke-width="1"/>
<text x="30.00" y="51.17" font-size="6.7" text-anchor="end" font-weight="normal" fill="#333" textLength="7.00" lengthAdjust="spacingAndGlyphs" stroke="#333" stroke-width="0.08">75</text>
<line x1="33.0" y1="27.70" x2="36.1" y2="27.70" stroke="#404040" stroke-width="1"/>
<text x="30.00" y="29.75" font-size="6.7" text-anchor="end" font-weight="normal" fill="#333" textLength="10.10" lengthAdjust="spacingAndGlyphs" stroke="#333" stroke-width="0.08">100</text>
<line x1="42.30" y1="117.6" x2="42.30" y2="120.7" stroke="#404040" stroke-width="1"/>
<text x="42.30" y="129.20" font-size="6.6" text-anchor="middle" font-weight="normal" fill="#333" textLength="3.60" lengthAdjust="spacingAndGlyphs" stroke="#333" stroke-width="0.08">0</text>
<line x1="54.81" y1="117.6" x2="54.81" y2="120.7" stroke="#404040" stroke-width="1"/>
<text x="54.81" y="129.20" font-size="6.6" text-anchor="middle" font-weight="normal" fill="#333" textLength="3.60" lengthAdjust="spacingAndGlyphs" stroke="#333" stroke-width="0.08">5</text>
<line x1="67.32" y1="117.6" x2="67.32" y2="120.7" stroke="#404040" stroke-width="1"/>
<text x="67.32" y="129.20" font-size="6.6" text-anchor="middle" font-weight="normal" fill="#333" textLength="6.80" lengthAdjust="spacingAndGlyphs" stroke="#333" stroke-width="0.08">10</text>
<line x1="79.83" y1="117.6" x2="79.83" y2="120.7" stroke="#404040" stroke-width="1"/>
<text x="79.83" y="129.20" font-size="6.6" text-anchor="middle" font-weight="normal" fill="#333" textLength="6.80" lengthAdjust="spacingAndGlyphs" stroke="#333" stroke-width="0.08">15</text>
<line x1="92.34" y1="117.6" x2="92.34" y2="120.7" stroke="#404040" stroke-width="1"/>
<text x="92.34" y="129.20" font-size="6.6" text-anchor="middle" font-weight="normal" fill="#333" textLength="6.80" lengthAdjust="spacingAndGlyphs" stroke="#333" stroke-width="0.08">20</text>
<line x1="104.85" y1="117.6" x2="104.85" y2="120.7" stroke="#404040" stroke-width="1"/>
<text x="104.85" y="129.20" font-size="6.6" text-anchor="middle" font-weight="normal" fill="#333" textLength="6.80" lengthAdjust="spacingAndGlyphs" stroke="#333" stroke-width="0.08">25</text>
<line x1="117.36" y1="117.6" x2="117.36" y2="120.7" stroke="#404040" stroke-width="1"/>
<text x="117.36" y="129.20" font-size="6.6" text-anchor="middle" font-weight="normal" fill="#333" textLength="6.80" lengthAdjust="spacingAndGlyphs" stroke="#333" stroke-width="0.08">30</text>
<line x1="129.87" y1="117.6" x2="129.87" y2="120.7" stroke="#404040" stroke-width="1"/>
<text x="129.87" y="129.20" font-size="6.6" text-anchor="middle" font-weight="normal" fill="#333" textLength="6.80" lengthAdjust="spacingAndGlyphs" stroke="#333" stroke-width="0.08">35</text>
<line x1="142.38" y1="117.6" x2="142.38" y2="120.7" stroke="#404040" stroke-width="1"/>
<text x="142.38" y="129.20" font-size="6.6" text-anchor="middle" font-weight="normal" fill="#333" textLength="6.80" lengthAdjust="spacingAndGlyphs" stroke="#333" stroke-width="0.08">40</text>
<line x1="154.89" y1="117.6" x2="154.89" y2="120.7" stroke="#404040" stroke-width="1"/>
<text x="154.89" y="129.20" font-size="6.6" text-anchor="middle" font-weight="normal" fill="#333" textLength="6.80" lengthAdjust="spacingAndGlyphs" stroke="#333" stroke-width="0.08">45</text>
<line x1="167.40" y1="117.6" x2="167.40" y2="120.7" stroke="#404040" stroke-width="1"/>
<text x="167.40" y="129.20" font-size="6.6" text-anchor="middle" font-weight="normal" fill="#333" textLength="6.80" lengthAdjust="spacingAndGlyphs" stroke="#333" stroke-width="0.08">50</text>
<text x="104.80" y="140.90" font-size="9.0" text-anchor="middle" font-weight="normal" fill="#2a2a2a" textLength="32.00" lengthAdjust="spacingAndGlyphs" stroke="#2a2a2a" stroke-width="0.32">Time (years)</text>
<text x="0" y="0" font-size="9.4" text-anchor="middle" fill="#2a2a2a" stroke="#2a2a2a" stroke-width="0.36" textLength="60.6" lengthAdjust="spacingAndGlyphs" transform="translate(14.5 70.3) rotate(-90)">Survival probability (%)</text>
<path d="M42.30,27.70H44.90V27.70H47.50V27.70H50.10V28.27H52.70V28.87H55.30V29.46H57.88V30.24H60.47V31.02H63.05V31.81H66.13V32.79H69.22V33.78H72.30V34.77H76.30V39.46H78.92V40.64H81.55V41.81H84.13V42.80H86.72V43.78H89.30V44.77H96.30V47.90H110.05V58.52H125.30" fill="none" stroke="#96c67a" stroke-width="1.0" stroke-linejoin="miter"/>
<line x1="67.30" y1="31.89" x2="67.30" y2="33.69" stroke="#7cbc5c" stroke-width="0.9" opacity="0.6"/>
<line x1="89.80" y1="43.87" x2="89.80" y2="45.67" stroke="#7cbc5c" stroke-width="0.9" opacity="0.6"/>
<line x1="99.80" y1="47.00" x2="99.80" y2="48.80" stroke="#7cbc5c" stroke-width="0.9" opacity="0.6"/>
<line x1="104.80" y1="47.00" x2="104.80" y2="48.80" stroke="#7cbc5c" stroke-width="0.9" opacity="0.6"/>
<line x1="109.80" y1="47.00" x2="109.80" y2="48.80" stroke="#7cbc5c" stroke-width="0.9" opacity="0.6"/>
<line x1="114.80" y1="57.62" x2="114.80" y2="59.42" stroke="#7cbc5c" stroke-width="0.9" opacity="0.6"/>
<line x1="125.30" y1="57.62" x2="125.30" y2="59.42" stroke="#7cbc5c" stroke-width="0.9" opacity="0.6"/>
<path d="M42.30,27.70H54.55V28.67H70.05V30.15H80.05V32.50H82.30V36.42H84.55V39.46H90.05V45.29H93.80V52.51H99.30V57.21H100.80V62.52H103.05V67.91H157.80" fill="none" stroke="#c53f6e" stroke-width="1.0" stroke-linejoin="miter"/>
<line x1="49.80" y1="26.80" x2="49.80" y2="28.60" stroke="#cc4a76" stroke-width="0.9" opacity="0.6"/>
<line x1="62.30" y1="27.77" x2="62.30" y2="29.57" stroke="#cc4a76" stroke-width="0.9" opacity="0.6"/>
<line x1="67.30" y1="27.77" x2="67.30" y2="29.57" stroke="#cc4a76" stroke-width="0.9" opacity="0.6"/>
<line x1="72.30" y1="29.25" x2="72.30" y2="31.05" stroke="#cc4a76" stroke-width="0.9" opacity="0.6"/>
<line x1="104.80" y1="67.01" x2="104.80" y2="68.81" stroke="#cc4a76" stroke-width="0.9" opacity="0.6"/>
<line x1="109.80" y1="67.01" x2="109.80" y2="68.81" stroke="#cc4a76" stroke-width="0.9" opacity="0.6"/>
<line x1="117.30" y1="67.01" x2="117.30" y2="68.81" stroke="#cc4a76" stroke-width="0.9" opacity="0.6"/>
<line x1="127.30" y1="67.01" x2="127.30" y2="68.81" stroke="#cc4a76" stroke-width="0.9" opacity="0.6"/>
<line x1="132.30" y1="67.01" x2="132.30" y2="68.81" stroke="#cc4a76" stroke-width="0.9" opacity="0.6"/>
<line x1="157.80" y1="67.01" x2="157.80" y2="68.81" stroke="#cc4a76" stroke-width="0.9" opacity="0.6"/>
<text x="107.40" y="29.00" font-size="6.6" text-anchor="start" font-weight="normal" fill="#222" textLength="46.80" lengthAdjust="spacingAndGlyphs" stroke="#222" stroke-width="0.18">Survival Between</text>
<text x="107.40" y="36.20" font-size="6.6" text-anchor="start" font-weight="normal" fill="#222" textLength="61.80" lengthAdjust="spacingAndGlyphs" stroke="#222" stroke-width="0.18">Patients Based on Age</text>
<text x="107.40" y="43.90" font-size="6.6" text-anchor="start" font-weight="normal" fill="#222" textLength="58.80" lengthAdjust="spacingAndGlyphs" stroke="#222" stroke-width="0.18">of Start of Transfusion</text>
<text x="174.90" y="41.25" font-size="6.6" text-anchor="start" font-weight="normal" fill="#222" textLength="20.10" lengthAdjust="spacingAndGlyphs" stroke="#222" stroke-width="0.18">Legend</text>
<line x1="174.70" y1="48.70" x2="178.80" y2="48.70" stroke="#8fca72" stroke-width="1.1" stroke-dasharray="1.2 0.4"/><line x1="180.30" y1="46.00" x2="180.30" y2="51.40" stroke="#7cbc5c" stroke-width="1.1"/><line x1="181.70" y1="48.70" x2="185.80" y2="48.70" stroke="#8fca72" stroke-width="1.1" stroke-dasharray="1.2 0.4"/>
<text x="189.00" y="49.80" font-size="6.6" text-anchor="start" font-weight="normal" fill="#222" textLength="43.90" lengthAdjust="spacingAndGlyphs" stroke="#222" stroke-width="0.18">Transfusion start</text>
<text x="189.00" y="57.20" font-size="6.6" text-anchor="start" font-weight="normal" fill="#222" textLength="27.00" lengthAdjust="spacingAndGlyphs" stroke="#222" stroke-width="0.18">&lt;=2 years</text>
<line x1="174.70" y1="67.50" x2="178.80" y2="67.50" stroke="#cf5580" stroke-width="1.1" stroke-dasharray="1.2 0.4"/><line x1="180.30" y1="64.80" x2="180.30" y2="70.20" stroke="#cc4a76" stroke-width="1.1"/><line x1="181.70" y1="67.50" x2="185.80" y2="67.50" stroke="#cf5580" stroke-width="1.1" stroke-dasharray="1.2 0.4"/>
<text x="189.00" y="68.40" font-size="6.6" text-anchor="start" font-weight="normal" fill="#222" textLength="43.90" lengthAdjust="spacingAndGlyphs" stroke="#222" stroke-width="0.18">Transfusion start</text>
<text x="189.00" y="75.60" font-size="6.6" text-anchor="start" font-weight="normal" fill="#222" textLength="22.60" lengthAdjust="spacingAndGlyphs" stroke="#222" stroke-width="0.18">&gt;2 years</text>
<text x="48.80" y="81.60" font-size="6.8" text-anchor="start" font-weight="normal" fill="#222" textLength="20.80" lengthAdjust="spacingAndGlyphs" stroke="#222" stroke-width="0.1">p=0.95</text>
</g>
<g transform="translate(258 301)">
<text x="7.50" y="17.75" font-size="11.5" text-anchor="start" font-weight="bold" fill="#000" stroke="#000" stroke-width="0.1">F</text>
<line x1="36.15" y1="24.20" x2="36.15" y2="118.4" stroke="#404040" stroke-width="1.7"/>
<line x1="35.3" y1="117.65" x2="173.70" y2="117.65" stroke="#404040" stroke-width="1.7"/>
<line x1="33.0" y1="113.40" x2="36.1" y2="113.40" stroke="#404040" stroke-width="1"/>
<text x="30.00" y="115.45" font-size="6.7" text-anchor="end" font-weight="normal" fill="#333" textLength="3.70" lengthAdjust="spacingAndGlyphs" stroke="#333" stroke-width="0.08">0</text>
<line x1="33.0" y1="92.10" x2="36.1" y2="92.10" stroke="#404040" stroke-width="1"/>
<text x="30.00" y="94.15" font-size="6.7" text-anchor="end" font-weight="normal" fill="#333" textLength="7.00" lengthAdjust="spacingAndGlyphs" stroke="#333" stroke-width="0.08">25</text>
<line x1="33.0" y1="70.80" x2="36.1" y2="70.80" stroke="#404040" stroke-width="1"/>
<text x="30.00" y="72.85" font-size="6.7" text-anchor="end" font-weight="normal" fill="#333" textLength="7.00" lengthAdjust="spacingAndGlyphs" stroke="#333" stroke-width="0.08">50</text>
<line x1="33.0" y1="49.50" x2="36.1" y2="49.50" stroke="#404040" stroke-width="1"/>
<text x="30.00" y="51.55" font-size="6.7" text-anchor="end" font-weight="normal" fill="#333" textLength="7.00" lengthAdjust="spacingAndGlyphs" stroke="#333" stroke-width="0.08">75</text>
<line x1="33.0" y1="28.20" x2="36.1" y2="28.20" stroke="#404040" stroke-width="1"/>
<text x="30.00" y="30.25" font-size="6.7" text-anchor="end" font-weight="normal" fill="#333" textLength="10.10" lengthAdjust="spacingAndGlyphs" stroke="#333" stroke-width="0.08">100</text>
<line x1="42.40" y1="117.6" x2="42.40" y2="120.7" stroke="#404040" stroke-width="1"/>
<text x="42.40" y="129.20" font-size="6.6" text-anchor="middle" font-weight="normal" fill="#333" textLength="3.60" lengthAdjust="spacingAndGlyphs" stroke="#333" stroke-width="0.08">0</text>
<line x1="54.91" y1="117.6" x2="54.91" y2="120.7" stroke="#404040" stroke-width="1"/>
<text x="54.91" y="129.20" font-size="6.6" text-anchor="middle" font-weight="normal" fill="#333" textLength="3.60" lengthAdjust="spacingAndGlyphs" stroke="#333" stroke-width="0.08">5</text>
<line x1="67.42" y1="117.6" x2="67.42" y2="120.7" stroke="#404040" stroke-width="1"/>
<text x="67.42" y="129.20" font-size="6.6" text-anchor="middle" font-weight="normal" fill="#333" textLength="6.80" lengthAdjust="spacingAndGlyphs" stroke="#333" stroke-width="0.08">10</text>
<line x1="79.93" y1="117.6" x2="79.93" y2="120.7" stroke="#404040" stroke-width="1"/>
<text x="79.93" y="129.20" font-size="6.6" text-anchor="middle" font-weight="normal" fill="#333" textLength="6.80" lengthAdjust="spacingAndGlyphs" stroke="#333" stroke-width="0.08">15</text>
<line x1="92.44" y1="117.6" x2="92.44" y2="120.7" stroke="#404040" stroke-width="1"/>
<text x="92.44" y="129.20" font-size="6.6" text-anchor="middle" font-weight="normal" fill="#333" textLength="6.80" lengthAdjust="spacingAndGlyphs" stroke="#333" stroke-width="0.08">20</text>
<line x1="104.95" y1="117.6" x2="104.95" y2="120.7" stroke="#404040" stroke-width="1"/>
<text x="104.95" y="129.20" font-size="6.6" text-anchor="middle" font-weight="normal" fill="#333" textLength="6.80" lengthAdjust="spacingAndGlyphs" stroke="#333" stroke-width="0.08">25</text>
<line x1="117.46" y1="117.6" x2="117.46" y2="120.7" stroke="#404040" stroke-width="1"/>
<text x="117.46" y="129.20" font-size="6.6" text-anchor="middle" font-weight="normal" fill="#333" textLength="6.80" lengthAdjust="spacingAndGlyphs" stroke="#333" stroke-width="0.08">30</text>
<line x1="129.97" y1="117.6" x2="129.97" y2="120.7" stroke="#404040" stroke-width="1"/>
<text x="129.97" y="129.20" font-size="6.6" text-anchor="middle" font-weight="normal" fill="#333" textLength="6.80" lengthAdjust="spacingAndGlyphs" stroke="#333" stroke-width="0.08">35</text>
<line x1="142.48" y1="117.6" x2="142.48" y2="120.7" stroke="#404040" stroke-width="1"/>
<text x="142.48" y="129.20" font-size="6.6" text-anchor="middle" font-weight="normal" fill="#333" textLength="6.80" lengthAdjust="spacingAndGlyphs" stroke="#333" stroke-width="0.08">40</text>
<line x1="154.99" y1="117.6" x2="154.99" y2="120.7" stroke="#404040" stroke-width="1"/>
<text x="154.99" y="129.20" font-size="6.6" text-anchor="middle" font-weight="normal" fill="#333" textLength="6.80" lengthAdjust="spacingAndGlyphs" stroke="#333" stroke-width="0.08">45</text>
<line x1="167.50" y1="117.6" x2="167.50" y2="120.7" stroke="#404040" stroke-width="1"/>
<text x="167.50" y="129.20" font-size="6.6" text-anchor="middle" font-weight="normal" fill="#333" textLength="6.80" lengthAdjust="spacingAndGlyphs" stroke="#333" stroke-width="0.08">50</text>
<text x="104.80" y="140.90" font-size="9.0" text-anchor="middle" font-weight="normal" fill="#2a2a2a" textLength="32.00" lengthAdjust="spacingAndGlyphs" stroke="#2a2a2a" stroke-width="0.32">Time (years)</text>
<text x="0" y="0" font-size="9.4" text-anchor="middle" fill="#2a2a2a" stroke="#2a2a2a" stroke-width="0.36" textLength="60.6" lengthAdjust="spacingAndGlyphs" transform="translate(14.5 70.3) rotate(-90)">Survival probability (%)</text>
<path d="M42.10,70.90H109.30 M109.30,70.90V113.4" fill="none" stroke="#707070" stroke-width="0.95" stroke-dasharray="1.1 0.4"/>
<path d="M42.30,28.20H44.63V28.20H46.97V28.99H49.30V30.24H51.61V30.81H53.92V31.37H56.24V31.94H58.55V32.50H60.86V32.89H63.17V33.29H65.49V33.68H67.80V34.07H70.30V34.85H72.80V35.64H75.30V36.42H78.42V38.72H81.55V41.03H84.67V42.42H87.80V43.81H90.80V44.55H93.80V45.29H95.30V50.16H97.80V54.08H99.30V60.17H100.80V65.65H109.30V71.22H120.05V81.92H156.80" fill="none" stroke="#96c67a" stroke-width="1.0" stroke-linejoin="miter"/>
<line x1="102.30" y1="64.75" x2="102.30" y2="66.55" stroke="#7cbc5c" stroke-width="0.9" opacity="0.6"/>
<line x1="112.30" y1="70.32" x2="112.30" y2="72.12" stroke="#7cbc5c" stroke-width="0.9" opacity="0.6"/>
<line x1="124.80" y1="81.02" x2="124.80" y2="82.82" stroke="#7cbc5c" stroke-width="0.9" opacity="0.6"/>
<line x1="129.80" y1="81.02" x2="129.80" y2="82.82" stroke="#7cbc5c" stroke-width="0.9" opacity="0.6"/>
<line x1="137.30" y1="81.02" x2="137.30" y2="82.82" stroke="#7cbc5c" stroke-width="0.9" opacity="0.6"/>
<line x1="156.80" y1="81.02" x2="156.80" y2="82.82" stroke="#7cbc5c" stroke-width="0.9" opacity="0.6"/>
<path d="M42.30,28.20H66.80V49.47H76.30V113.50H104.55" fill="none" stroke="#c53f6e" stroke-width="1.0" stroke-linejoin="miter"/>
<line x1="59.80" y1="27.30" x2="59.80" y2="29.10" stroke="#cc4a76" stroke-width="0.9" opacity="0.6"/>
<line x1="72.30" y1="48.57" x2="72.30" y2="50.37" stroke="#cc4a76" stroke-width="0.9" opacity="0.6"/>
<line x1="87.30" y1="112.60" x2="87.30" y2="114.40" stroke="#cc4a76" stroke-width="0.9" opacity="0.6"/>
<line x1="92.30" y1="112.60" x2="92.30" y2="114.40" stroke="#cc4a76" stroke-width="0.9" opacity="0.6"/>
<line x1="97.30" y1="112.60" x2="97.30" y2="114.40" stroke="#cc4a76" stroke-width="0.9" opacity="0.6"/>
<line x1="104.55" y1="112.60" x2="104.55" y2="114.40" stroke="#cc4a76" stroke-width="0.9" opacity="0.6"/>
<text x="108.90" y="52.80" font-size="6.6" text-anchor="start" font-weight="normal" fill="#222" textLength="56.20" lengthAdjust="spacingAndGlyphs" stroke="#222" stroke-width="0.18">Survival according to</text>
<text x="108.90" y="60.10" font-size="6.6" text-anchor="start" font-weight="normal" fill="#222" textLength="27.30" lengthAdjust="spacingAndGlyphs" stroke="#222" stroke-width="0.18">TTI Status</text>
<text x="177.10" y="40.85" font-size="6.6" text-anchor="start" font-weight="normal" fill="#222" textLength="20.10" lengthAdjust="spacingAndGlyphs" stroke="#222" stroke-width="0.18">Legend</text>
<line x1="176.90" y1="48.20" x2="181.00" y2="48.20" stroke="#8fca72" stroke-width="1.1" stroke-dasharray="1.2 0.4"/><line x1="182.50" y1="45.50" x2="182.50" y2="50.90" stroke="#7cbc5c" stroke-width="1.1"/><line x1="183.90" y1="48.20" x2="188.00" y2="48.20" stroke="#8fca72" stroke-width="1.1" stroke-dasharray="1.2 0.4"/>
<text x="191.20" y="49.80" font-size="6.6" text-anchor="start" font-weight="normal" fill="#222" textLength="43.10" lengthAdjust="spacingAndGlyphs" stroke="#222" stroke-width="0.18">TTI Status = No</text>
<line x1="176.90" y1="57.90" x2="181.00" y2="57.90" stroke="#cf5580" stroke-width="1.1" stroke-dasharray="1.2 0.4"/><line x1="182.50" y1="55.20" x2="182.50" y2="60.60" stroke="#cc4a76" stroke-width="1.1"/><line x1="183.90" y1="57.90" x2="188.00" y2="57.90" stroke="#cf5580" stroke-width="1.1" stroke-dasharray="1.2 0.4"/>
<text x="191.20" y="59.70" font-size="6.6" text-anchor="start" font-weight="normal" fill="#222" textLength="44.50" lengthAdjust="spacingAndGlyphs" stroke="#222" stroke-width="0.18">TTI Status = Yes</text>
<text x="40.10" y="87.90" font-size="6.8" text-anchor="start" font-weight="normal" fill="#222" textLength="22.70" lengthAdjust="spacingAndGlyphs" stroke="#222" stroke-width="0.1">p=0.031</text>
</g>
<g transform="translate(0 451)">
<text x="7.50" y="17.90" font-size="11.5" text-anchor="start" font-weight="bold" fill="#000" stroke="#000" stroke-width="0.1">G</text>
<line x1="36.15" y1="24.20" x2="36.15" y2="118.4" stroke="#404040" stroke-width="1.7"/>
<line x1="35.3" y1="117.65" x2="172.00" y2="117.65" stroke="#404040" stroke-width="1.7"/>
<line x1="33.0" y1="113.40" x2="36.1" y2="113.40" stroke="#404040" stroke-width="1"/>
<text x="30.00" y="115.45" font-size="6.7" text-anchor="end" font-weight="normal" fill="#333" textLength="3.70" lengthAdjust="spacingAndGlyphs" stroke="#333" stroke-width="0.08">0</text>
<line x1="33.0" y1="92.10" x2="36.1" y2="92.10" stroke="#404040" stroke-width="1"/>
<text x="30.00" y="94.15" font-size="6.7" text-anchor="end" font-weight="normal" fill="#333" textLength="7.00" lengthAdjust="spacingAndGlyphs" stroke="#333" stroke-width="0.08">25</text>
<line x1="33.0" y1="70.80" x2="36.1" y2="70.80" stroke="#404040" stroke-width="1"/>
<text x="30.00" y="72.85" font-size="6.7" text-anchor="end" font-weight="normal" fill="#333" textLength="7.00" lengthAdjust="spacingAndGlyphs" stroke="#333" stroke-width="0.08">50</text>
<line x1="33.0" y1="49.50" x2="36.1" y2="49.50" stroke="#404040" stroke-width="1"/>
<text x="30.00" y="51.55" font-size="6.7" text-anchor="end" font-weight="normal" fill="#333" textLength="7.00" lengthAdjust="spacingAndGlyphs" stroke="#333" stroke-width="0.08">75</text>
<line x1="33.0" y1="28.20" x2="36.1" y2="28.20" stroke="#404040" stroke-width="1"/>
<text x="30.00" y="30.25" font-size="6.7" text-anchor="end" font-weight="normal" fill="#333" textLength="10.10" lengthAdjust="spacingAndGlyphs" stroke="#333" stroke-width="0.08">100</text>
<line x1="42.30" y1="117.6" x2="42.30" y2="120.7" stroke="#404040" stroke-width="1"/>
<text x="42.30" y="129.20" font-size="6.6" text-anchor="middle" font-weight="normal" fill="#333" textLength="3.60" lengthAdjust="spacingAndGlyphs" stroke="#333" stroke-width="0.08">0</text>
<line x1="54.69" y1="117.6" x2="54.69" y2="120.7" stroke="#404040" stroke-width="1"/>
<text x="54.69" y="129.20" font-size="6.6" text-anchor="middle" font-weight="normal" fill="#333" textLength="3.60" lengthAdjust="spacingAndGlyphs" stroke="#333" stroke-width="0.08">5</text>
<line x1="67.08" y1="117.6" x2="67.08" y2="120.7" stroke="#404040" stroke-width="1"/>
<text x="67.08" y="129.20" font-size="6.6" text-anchor="middle" font-weight="normal" fill="#333" textLength="6.80" lengthAdjust="spacingAndGlyphs" stroke="#333" stroke-width="0.08">10</text>
<line x1="79.47" y1="117.6" x2="79.47" y2="120.7" stroke="#404040" stroke-width="1"/>
<text x="79.47" y="129.20" font-size="6.6" text-anchor="middle" font-weight="normal" fill="#333" textLength="6.80" lengthAdjust="spacingAndGlyphs" stroke="#333" stroke-width="0.08">15</text>
<line x1="91.86" y1="117.6" x2="91.86" y2="120.7" stroke="#404040" stroke-width="1"/>
<text x="91.86" y="129.20" font-size="6.6" text-anchor="middle" font-weight="normal" fill="#333" textLength="6.80" lengthAdjust="spacingAndGlyphs" stroke="#333" stroke-width="0.08">20</text>
<line x1="104.25" y1="117.6" x2="104.25" y2="120.7" stroke="#404040" stroke-width="1"/>
<text x="104.25" y="129.20" font-size="6.6" text-anchor="middle" font-weight="normal" fill="#333" textLength="6.80" lengthAdjust="spacingAndGlyphs" stroke="#333" stroke-width="0.08">25</text>
<line x1="116.64" y1="117.6" x2="116.64" y2="120.7" stroke="#404040" stroke-width="1"/>
<text x="116.64" y="129.20" font-size="6.6" text-anchor="middle" font-weight="normal" fill="#333" textLength="6.80" lengthAdjust="spacingAndGlyphs" stroke="#333" stroke-width="0.08">30</text>
<line x1="129.03" y1="117.6" x2="129.03" y2="120.7" stroke="#404040" stroke-width="1"/>
<text x="129.03" y="129.20" font-size="6.6" text-anchor="middle" font-weight="normal" fill="#333" textLength="6.80" lengthAdjust="spacingAndGlyphs" stroke="#333" stroke-width="0.08">35</text>
<line x1="141.42" y1="117.6" x2="141.42" y2="120.7" stroke="#404040" stroke-width="1"/>
<text x="141.42" y="129.20" font-size="6.6" text-anchor="middle" font-weight="normal" fill="#333" textLength="6.80" lengthAdjust="spacingAndGlyphs" stroke="#333" stroke-width="0.08">40</text>
<line x1="153.81" y1="117.6" x2="153.81" y2="120.7" stroke="#404040" stroke-width="1"/>
<text x="153.81" y="129.20" font-size="6.6" text-anchor="middle" font-weight="normal" fill="#333" textLength="6.80" lengthAdjust="spacingAndGlyphs" stroke="#333" stroke-width="0.08">45</text>
<line x1="166.20" y1="117.6" x2="166.20" y2="120.7" stroke="#404040" stroke-width="1"/>
<text x="166.20" y="129.20" font-size="6.6" text-anchor="middle" font-weight="normal" fill="#333" textLength="6.80" lengthAdjust="spacingAndGlyphs" stroke="#333" stroke-width="0.08">50</text>
<text x="104.80" y="140.90" font-size="9.0" text-anchor="middle" font-weight="normal" fill="#2a2a2a" textLength="32.00" lengthAdjust="spacingAndGlyphs" stroke="#2a2a2a" stroke-width="0.32">Time (years)</text>
<text x="0" y="0" font-size="9.4" text-anchor="middle" fill="#2a2a2a" stroke="#2a2a2a" stroke-width="0.36" textLength="60.6" lengthAdjust="spacingAndGlyphs" transform="translate(14.5 70.3) rotate(-90)">Survival probability (%)</text>
<path d="M41.80,70.90H108.80 M108.80,70.90V113.4" fill="none" stroke="#707070" stroke-width="0.95" stroke-dasharray="1.1 0.4"/>
<path d="M42.30,28.20H72.30V33.03H81.30V37.64H86.30V43.81H96.30V49.47H98.55V56.43H100.80V64.52H130.05" fill="none" stroke="#96c67a" stroke-width="1.0" stroke-linejoin="miter"/>
<line x1="54.80" y1="27.30" x2="54.80" y2="29.10" stroke="#7cbc5c" stroke-width="0.9" opacity="0.6"/>
<line x1="64.80" y1="27.30" x2="64.80" y2="29.10" stroke="#7cbc5c" stroke-width="0.9" opacity="0.6"/>
<line x1="69.80" y1="27.30" x2="69.80" y2="29.10" stroke="#7cbc5c" stroke-width="0.9" opacity="0.6"/>
<line x1="92.30" y1="42.91" x2="92.30" y2="44.71" stroke="#7cbc5c" stroke-width="0.9" opacity="0.6"/>
<line x1="104.80" y1="63.62" x2="104.80" y2="65.42" stroke="#7cbc5c" stroke-width="0.9" opacity="0.6"/>
<line x1="109.80" y1="63.62" x2="109.80" y2="65.42" stroke="#7cbc5c" stroke-width="0.9" opacity="0.6"/>
<line x1="114.80" y1="63.62" x2="114.80" y2="65.42" stroke="#7cbc5c" stroke-width="0.9" opacity="0.6"/>
<line x1="122.30" y1="63.62" x2="122.30" y2="65.42" stroke="#7cbc5c" stroke-width="0.9" opacity="0.6"/>
<line x1="130.05" y1="63.62" x2="130.05" y2="65.42" stroke="#7cbc5c" stroke-width="0.9" opacity="0.6"/>
<path d="M42.30,28.20H44.63V28.20H46.97V28.99H49.30V30.24H52.30V31.37H55.30V32.50H57.61V32.89H59.92V33.29H62.24V33.68H64.55V34.07H67.13V34.85H69.72V35.64H72.30V36.42H75.42V38.72H78.55V41.03H81.55V42.90H84.55V44.77H86.92V46.34H89.30V47.90H91.55V49.86H93.80V51.82H95.30V57.21H98.55V61.04H100.05V62.00H100.80V65.65H102.30V69.04H103.05V70.17H108.80V84.44H119.55V98.97H156.55" fill="none" stroke="#c53f6e" stroke-width="1.0" stroke-linejoin="miter"/>
<line x1="104.80" y1="69.27" x2="104.80" y2="71.07" stroke="#cc4a76" stroke-width="0.9" opacity="0.6"/>
<line x1="106.05" y1="69.27" x2="106.05" y2="71.07" stroke="#cc4a76" stroke-width="0.9" opacity="0.6"/>
<line x1="112.30" y1="83.54" x2="112.30" y2="85.34" stroke="#cc4a76" stroke-width="0.9" opacity="0.6"/>
<line x1="129.80" y1="98.07" x2="129.80" y2="99.87" stroke="#cc4a76" stroke-width="0.9" opacity="0.6"/>
<line x1="137.30" y1="98.07" x2="137.30" y2="99.87" stroke="#cc4a76" stroke-width="0.9" opacity="0.6"/>
<line x1="142.30" y1="98.07" x2="142.30" y2="99.87" stroke="#cc4a76" stroke-width="0.9" opacity="0.6"/>
<line x1="156.55" y1="98.07" x2="156.55" y2="99.87" stroke="#cc4a76" stroke-width="0.9" opacity="0.6"/>
<text x="105.80" y="36.00" font-size="6.6" text-anchor="start" font-weight="normal" fill="#222" textLength="48.40" lengthAdjust="spacingAndGlyphs" stroke="#222" stroke-width="0.18">Survival Based on</text>
<text x="105.80" y="43.20" font-size="6.6" text-anchor="start" font-weight="normal" fill="#222" textLength="53.90" lengthAdjust="spacingAndGlyphs" stroke="#222" stroke-width="0.18">Splenectomy Status</text>
<text x="176.50" y="40.95" font-size="6.6" text-anchor="start" font-weight="normal" fill="#222" textLength="20.10" lengthAdjust="spacingAndGlyphs" stroke="#222" stroke-width="0.18">Legend</text>
<line x1="176.30" y1="48.20" x2="180.40" y2="48.20" stroke="#8fca72" stroke-width="1.1" stroke-dasharray="1.2 0.4"/><line x1="181.90" y1="45.50" x2="181.90" y2="50.90" stroke="#7cbc5c" stroke-width="1.1"/><line x1="183.30" y1="48.20" x2="187.40" y2="48.20" stroke="#8fca72" stroke-width="1.1" stroke-dasharray="1.2 0.4"/>
<text x="190.60" y="49.50" font-size="6.6" text-anchor="start" font-weight="normal" fill="#222" textLength="40.70" lengthAdjust="spacingAndGlyphs" stroke="#222" stroke-width="0.18">Splenectomy =</text>
<text x="190.60" y="57.20" font-size="6.6" text-anchor="start" font-weight="normal" fill="#222" textLength="13.80" lengthAdjust="spacingAndGlyphs" stroke="#222" stroke-width="0.18">Done</text>
<line x1="176.30" y1="70.10" x2="180.40" y2="70.10" stroke="#cf5580" stroke-width="1.1" stroke-dasharray="1.2 0.4"/><line x1="181.90" y1="67.40" x2="181.90" y2="72.80" stroke="#cc4a76" stroke-width="1.1"/><line x1="183.30" y1="70.10" x2="187.40" y2="70.10" stroke="#cf5580" stroke-width="1.1" stroke-dasharray="1.2 0.4"/>
<text x="190.60" y="71.30" font-size="6.6" text-anchor="start" font-weight="normal" fill="#222" textLength="40.70" lengthAdjust="spacingAndGlyphs" stroke="#222" stroke-width="0.18">Splenectomy =</text>
<text x="190.60" y="79.00" font-size="6.6" text-anchor="start" font-weight="normal" fill="#222" textLength="25.00" lengthAdjust="spacingAndGlyphs" stroke="#222" stroke-width="0.18">Not Done</text>
<text x="50.00" y="91.60" font-size="6.8" text-anchor="start" font-weight="normal" fill="#222" textLength="19.80" lengthAdjust="spacingAndGlyphs" stroke="#222" stroke-width="0.1">p=0.23</text>
</g>
<g transform="translate(258 451)">
<text x="7.50" y="17.85" font-size="11.5" text-anchor="start" font-weight="bold" fill="#000" stroke="#000" stroke-width="0.1">H</text>
<line x1="36.15" y1="24.50" x2="36.15" y2="118.4" stroke="#404040" stroke-width="1.7"/>
<line x1="35.3" y1="117.65" x2="172.60" y2="117.65" stroke="#404040" stroke-width="1.7"/>
<line x1="33.0" y1="113.40" x2="36.1" y2="113.40" stroke="#404040" stroke-width="1"/>
<text x="30.00" y="115.45" font-size="6.7" text-anchor="end" font-weight="normal" fill="#333" textLength="3.70" lengthAdjust="spacingAndGlyphs" stroke="#333" stroke-width="0.08">0</text>
<line x1="33.0" y1="92.18" x2="36.1" y2="92.18" stroke="#404040" stroke-width="1"/>
<text x="30.00" y="94.23" font-size="6.7" text-anchor="end" font-weight="normal" fill="#333" textLength="7.00" lengthAdjust="spacingAndGlyphs" stroke="#333" stroke-width="0.08">25</text>
<line x1="33.0" y1="70.95" x2="36.1" y2="70.95" stroke="#404040" stroke-width="1"/>
<text x="30.00" y="73.00" font-size="6.7" text-anchor="end" font-weight="normal" fill="#333" textLength="7.00" lengthAdjust="spacingAndGlyphs" stroke="#333" stroke-width="0.08">50</text>
<line x1="33.0" y1="49.73" x2="36.1" y2="49.73" stroke="#404040" stroke-width="1"/>
<text x="30.00" y="51.78" font-size="6.7" text-anchor="end" font-weight="normal" fill="#333" textLength="7.00" lengthAdjust="spacingAndGlyphs" stroke="#333" stroke-width="0.08">75</text>
<line x1="33.0" y1="28.50" x2="36.1" y2="28.50" stroke="#404040" stroke-width="1"/>
<text x="30.00" y="30.55" font-size="6.7" text-anchor="end" font-weight="normal" fill="#333" textLength="10.10" lengthAdjust="spacingAndGlyphs" stroke="#333" stroke-width="0.08">100</text>
<line x1="42.40" y1="117.6" x2="42.40" y2="120.7" stroke="#404040" stroke-width="1"/>
<text x="42.40" y="129.20" font-size="6.6" text-anchor="middle" font-weight="normal" fill="#333" textLength="3.60" lengthAdjust="spacingAndGlyphs" stroke="#333" stroke-width="0.08">0</text>
<line x1="54.81" y1="117.6" x2="54.81" y2="120.7" stroke="#404040" stroke-width="1"/>
<text x="54.81" y="129.20" font-size="6.6" text-anchor="middle" font-weight="normal" fill="#333" textLength="3.60" lengthAdjust="spacingAndGlyphs" stroke="#333" stroke-width="0.08">5</text>
<line x1="67.22" y1="117.6" x2="67.22" y2="120.7" stroke="#404040" stroke-width="1"/>
<text x="67.22" y="129.20" font-size="6.6" text-anchor="middle" font-weight="normal" fill="#333" textLength="6.80" lengthAdjust="spacingAndGlyphs" stroke="#333" stroke-width="0.08">10</text>
<line x1="79.63" y1="117.6" x2="79.63" y2="120.7" stroke="#404040" stroke-width="1"/>
<text x="79.63" y="129.20" font-size="6.6" text-anchor="middle" font-weight="normal" fill="#333" textLength="6.80" lengthAdjust="spacingAndGlyphs" stroke="#333" stroke-width="0.08">15</text>
<line x1="92.04" y1="117.6" x2="92.04" y2="120.7" stroke="#404040" stroke-width="1"/>
<text x="92.04" y="129.20" font-size="6.6" text-anchor="middle" font-weight="normal" fill="#333" textLength="6.80" lengthAdjust="spacingAndGlyphs" stroke="#333" stroke-width="0.08">20</text>
<line x1="104.45" y1="117.6" x2="104.45" y2="120.7" stroke="#404040" stroke-width="1"/>
<text x="104.45" y="129.20" font-size="6.6" text-anchor="middle" font-weight="normal" fill="#333" textLength="6.80" lengthAdjust="spacingAndGlyphs" stroke="#333" stroke-width="0.08">25</text>
<line x1="116.86" y1="117.6" x2="116.86" y2="120.7" stroke="#404040" stroke-width="1"/>
<text x="116.86" y="129.20" font-size="6.6" text-anchor="middle" font-weight="normal" fill="#333" textLength="6.80" lengthAdjust="spacingAndGlyphs" stroke="#333" stroke-width="0.08">30</text>
<line x1="129.27" y1="117.6" x2="129.27" y2="120.7" stroke="#404040" stroke-width="1"/>
<text x="129.27" y="129.20" font-size="6.6" text-anchor="middle" font-weight="normal" fill="#333" textLength="6.80" lengthAdjust="spacingAndGlyphs" stroke="#333" stroke-width="0.08">35</text>
<line x1="141.68" y1="117.6" x2="141.68" y2="120.7" stroke="#404040" stroke-width="1"/>
<text x="141.68" y="129.20" font-size="6.6" text-anchor="middle" font-weight="normal" fill="#333" textLength="6.80" lengthAdjust="spacingAndGlyphs" stroke="#333" stroke-width="0.08">40</text>
<line x1="154.09" y1="117.6" x2="154.09" y2="120.7" stroke="#404040" stroke-width="1"/>
<text x="154.09" y="129.20" font-size="6.6" text-anchor="middle" font-weight="normal" fill="#333" textLength="6.80" lengthAdjust="spacingAndGlyphs" stroke="#333" stroke-width="0.08">45</text>
<line x1="166.50" y1="117.6" x2="166.50" y2="120.7" stroke="#404040" stroke-width="1"/>
<text x="166.50" y="129.20" font-size="6.6" text-anchor="middle" font-weight="normal" fill="#333" textLength="6.80" lengthAdjust="spacingAndGlyphs" stroke="#333" stroke-width="0.08">50</text>
<text x="104.80" y="140.90" font-size="9.0" text-anchor="middle" font-weight="normal" fill="#2a2a2a" textLength="32.00" lengthAdjust="spacingAndGlyphs" stroke="#2a2a2a" stroke-width="0.32">Time (years)</text>
<text x="0" y="0" font-size="9.4" text-anchor="middle" fill="#2a2a2a" stroke="#2a2a2a" stroke-width="0.36" textLength="60.6" lengthAdjust="spacingAndGlyphs" transform="translate(14.5 70.3) rotate(-90)">Survival probability (%)</text>
<path d="M42.10,71.20H120.05 M120.05,71.20V113.4" fill="none" stroke="#707070" stroke-width="0.95" stroke-dasharray="1.1 0.4"/>
<path d="M42.30,28.50H44.63V28.50H46.97V28.76H49.30V29.89H52.30V30.85H55.30V31.81H58.05V32.11H60.80V32.42H63.55V32.72H66.30V33.03H69.30V33.89H72.30V34.77H74.55V36.46H76.80V38.16H79.38V38.83H81.97V39.49H84.55V40.16H86.92V42.12H89.30V44.07H91.92V46.38H94.55V48.69H96.92V50.99H99.30V53.30H101.55V61.04H102.80V65.39H109.30V70.61H120.05V85.31H155.80" fill="none" stroke="#96c67a" stroke-width="1.0" stroke-linejoin="miter"/>
<line x1="62.30" y1="31.52" x2="62.30" y2="33.32" stroke="#7cbc5c" stroke-width="0.9" opacity="0.6"/>
<line x1="77.30" y1="37.26" x2="77.30" y2="39.06" stroke="#7cbc5c" stroke-width="0.9" opacity="0.6"/>
<line x1="92.30" y1="45.48" x2="92.30" y2="47.28" stroke="#7cbc5c" stroke-width="0.9" opacity="0.6"/>
<line x1="104.80" y1="64.49" x2="104.80" y2="66.29" stroke="#7cbc5c" stroke-width="0.9" opacity="0.6"/>
<line x1="112.30" y1="69.71" x2="112.30" y2="71.51" stroke="#7cbc5c" stroke-width="0.9" opacity="0.6"/>
<line x1="117.30" y1="69.71" x2="117.30" y2="71.51" stroke="#7cbc5c" stroke-width="0.9" opacity="0.6"/>
<line x1="127.30" y1="84.41" x2="127.30" y2="86.21" stroke="#7cbc5c" stroke-width="0.9" opacity="0.6"/>
<line x1="132.30" y1="84.41" x2="132.30" y2="86.21" stroke="#7cbc5c" stroke-width="0.9" opacity="0.6"/>
<line x1="155.80" y1="84.41" x2="155.80" y2="86.21" stroke="#7cbc5c" stroke-width="0.9" opacity="0.6"/>
<path d="M42.30,28.50H44.55V31.81H46.80V33.29H48.55V36.42H51.55V39.81H58.55V45.90H66.30V48.69H70.05V53.30H80.05V64.17H83.30V71.22H95.30V85.31H96.05V95.40H99.30V99.49H120.05" fill="none" stroke="#c53f6e" stroke-width="1.0" stroke-linejoin="miter"/>
<line x1="52.30" y1="38.91" x2="52.30" y2="40.71" stroke="#cc4a76" stroke-width="0.9" opacity="0.6"/>
<line x1="62.30" y1="45.00" x2="62.30" y2="46.80" stroke="#cc4a76" stroke-width="0.9" opacity="0.6"/>
<line x1="74.80" y1="52.40" x2="74.80" y2="54.20" stroke="#cc4a76" stroke-width="0.9" opacity="0.6"/>
<line x1="84.80" y1="70.32" x2="84.80" y2="72.12" stroke="#cc4a76" stroke-width="0.9" opacity="0.6"/>
<line x1="87.30" y1="70.32" x2="87.30" y2="72.12" stroke="#cc4a76" stroke-width="0.9" opacity="0.6"/>
<line x1="104.80" y1="98.59" x2="104.80" y2="100.39" stroke="#cc4a76" stroke-width="0.9" opacity="0.6"/>
<line x1="109.80" y1="98.59" x2="109.80" y2="100.39" stroke="#cc4a76" stroke-width="0.9" opacity="0.6"/>
<line x1="120.05" y1="98.59" x2="120.05" y2="100.39" stroke="#cc4a76" stroke-width="0.9" opacity="0.6"/>
<text x="105.80" y="32.50" font-size="6.6" text-anchor="start" font-weight="normal" fill="#222" textLength="56.20" lengthAdjust="spacingAndGlyphs" stroke="#222" stroke-width="0.18">Survival according to</text>
<text x="105.80" y="39.80" font-size="6.6" text-anchor="start" font-weight="normal" fill="#222" textLength="30.00" lengthAdjust="spacingAndGlyphs" stroke="#222" stroke-width="0.18">Hepatitis B</text>
<text x="105.80" y="47.50" font-size="6.6" text-anchor="start" font-weight="normal" fill="#222" textLength="50.00" lengthAdjust="spacingAndGlyphs" stroke="#222" stroke-width="0.18">Vaccination Status</text>
<text x="176.80" y="41.25" font-size="6.6" text-anchor="start" font-weight="normal" fill="#222" textLength="20.10" lengthAdjust="spacingAndGlyphs" stroke="#222" stroke-width="0.18">Legend</text>
<line x1="176.60" y1="48.00" x2="180.70" y2="48.00" stroke="#8fca72" stroke-width="1.1" stroke-dasharray="1.2 0.4"/><line x1="182.20" y1="45.30" x2="182.20" y2="50.70" stroke="#7cbc5c" stroke-width="1.1"/><line x1="183.60" y1="48.00" x2="187.70" y2="48.00" stroke="#8fca72" stroke-width="1.1" stroke-dasharray="1.2 0.4"/>
<text x="190.90" y="49.50" font-size="6.6" text-anchor="start" font-weight="normal" fill="#222" textLength="30.10" lengthAdjust="spacingAndGlyphs" stroke="#222" stroke-width="0.18">Hepatitis B</text>
<text x="190.90" y="57.30" font-size="6.6" text-anchor="start" font-weight="normal" fill="#222" textLength="52.80" lengthAdjust="spacingAndGlyphs" stroke="#222" stroke-width="0.18">Vaccination = Done</text>
<line x1="176.60" y1="70.20" x2="180.70" y2="70.20" stroke="#cf5580" stroke-width="1.1" stroke-dasharray="1.2 0.4"/><line x1="182.20" y1="67.50" x2="182.20" y2="72.90" stroke="#cc4a76" stroke-width="1.1"/><line x1="183.60" y1="70.20" x2="187.70" y2="70.20" stroke="#cf5580" stroke-width="1.1" stroke-dasharray="1.2 0.4"/>
<text x="190.90" y="71.60" font-size="6.6" text-anchor="start" font-weight="normal" fill="#222" textLength="30.10" lengthAdjust="spacingAndGlyphs" stroke="#222" stroke-width="0.18">Hepatitis B</text>
<text x="190.90" y="78.90" font-size="6.6" text-anchor="start" font-weight="normal" fill="#222" textLength="64.00" lengthAdjust="spacingAndGlyphs" stroke="#222" stroke-width="0.18">Vaccination = Not Done</text>
<text x="46.10" y="92.00" font-size="6.8" text-anchor="start" font-weight="normal" fill="#222" textLength="24.10" lengthAdjust="spacingAndGlyphs" stroke="#222" stroke-width="0.1">p=.0003</text>
</g>
<rect x="0" y="0" width="520" height="1.45" fill="#000"/><rect x="0" y="0" width="1.5" height="601" fill="#000"/><rect x="518.3" y="0" width="1.7" height="601" fill="#000"/><rect x="0" y="599.4" width="520" height="1.6" fill="#000"/>
</svg>
</body></html>
